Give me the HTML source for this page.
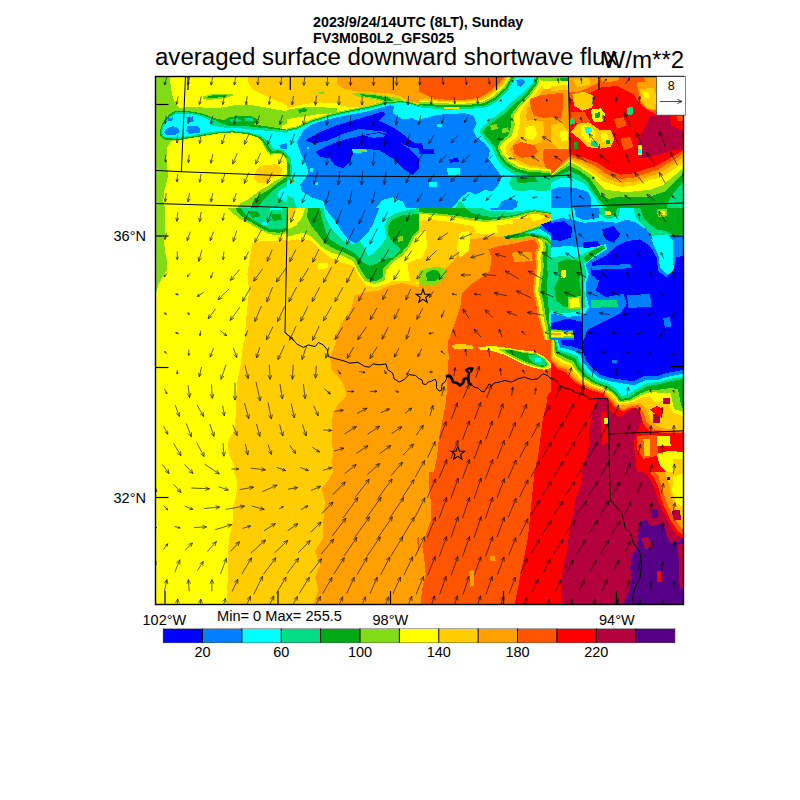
<!DOCTYPE html>
<html><head><meta charset="utf-8">
<style>
html,body{margin:0;padding:0;background:#fff;}
body{width:800px;height:800px;position:relative;overflow:hidden;font-family:"Liberation Sans",sans-serif;color:#000;}
.t{position:absolute;white-space:nowrap;line-height:1;}
svg{position:absolute;left:0;top:0;}
</style></head><body>
<svg id="map" width="800" height="800" viewBox="0 0 800 800">
<defs><clipPath id="cp"><rect x="156" y="77" width="527" height="527"/></clipPath></defs>
<g clip-path="url(#cp)" shape-rendering="crispEdges">
<rect x="155" y="76" width="529" height="529" fill="#ffff00"/>
<defs><clipPath id="t00"><rect x="155" y="76" width="132" height="132"/></clipPath><clipPath id="t01"><rect x="155" y="208" width="132" height="132"/></clipPath><clipPath id="t02"><rect x="155" y="340" width="132" height="132"/></clipPath><clipPath id="t03"><rect x="155" y="472" width="132" height="132"/></clipPath><clipPath id="t10"><rect x="287" y="76" width="132" height="132"/></clipPath><clipPath id="t11"><rect x="287" y="208" width="132" height="132"/></clipPath><clipPath id="t12"><rect x="287" y="340" width="132" height="132"/></clipPath><clipPath id="t13"><rect x="287" y="472" width="132" height="132"/></clipPath><clipPath id="t20"><rect x="419" y="76" width="132" height="132"/></clipPath><clipPath id="t21"><rect x="419" y="208" width="132" height="132"/></clipPath><clipPath id="t22"><rect x="419" y="340" width="132" height="132"/></clipPath><clipPath id="t23"><rect x="419" y="472" width="132" height="132"/></clipPath><clipPath id="t30"><rect x="551" y="76" width="132" height="132"/></clipPath><clipPath id="t31"><rect x="551" y="208" width="132" height="132"/></clipPath><clipPath id="t32"><rect x="551" y="340" width="132" height="132"/></clipPath><clipPath id="t33"><rect x="551" y="472" width="132" height="132"/></clipPath></defs>
<g clip-path="url(#t00)"><g transform="translate(155,76) scale(0.165)">
<rect x="-10" y="-10" width="820" height="820" fill="#ffff00"/>
<polygon fill="#ffcd00" points="560,0 565,40 590,80 640,105 700,135 760,160 800,178 800,0"/>
<polygon fill="#ffcd00" points="620,560 660,540 740,535 770,560 760,600 700,620 680,650 620,645 600,620 610,580"/>
<polygon fill="#82dc14" points="0,0 90,0 95,60 105,120 120,165 150,195 230,185 330,195 420,190 490,175 560,172 640,185 720,200 800,215 800,290 770,300 770,325 800,335 800,520 780,480 740,470 700,480 670,445 650,400 620,370 560,345 470,335 400,340 330,352 250,367 150,385 100,392 75,430 68,500 75,560 80,600 70,650 55,700 50,760 60,800 0,800"/>
<polygon fill="#82dc14" points="290,125 340,110 470,108 470,120 420,135 330,145 290,140"/>
<polygon fill="#00aa14" points="305,128 345,118 440,115 430,125 340,135"/>
<polygon fill="#82dc14" points="800,590 760,620 720,640 680,670 640,690 600,720 560,750 520,770 500,800 800,800"/>
<polygon fill="#00aa14" points="800,610 740,650 690,690 640,715 600,750 580,800 800,800"/>
<polygon fill="#00dc82" points="800,640 760,660 720,690 690,720 650,760 620,800 800,800"/>
<polygon fill="#00ffff" points="800,670 760,690 740,720 760,750 800,760"/>
<polygon fill="#00aa14" points="28,335 45,285 85,235 120,212 200,212 290,228 360,255 420,268 450,250 520,240 590,245 625,265 600,295 680,305 800,325 800,500 770,470 740,465 700,470 680,445 655,400 625,372 560,352 470,342 400,345 330,357 250,370 150,388 60,385 35,370"/>
<polygon fill="#00dc82" points="35,335 50,290 90,242 125,220 200,220 285,235 350,262 400,285 440,300 520,300 600,310 700,320 800,330 800,490 775,460 745,450 710,455 690,430 665,395 635,368 565,345 470,335 400,338 330,350 250,362 150,380 65,378 42,365"/>
<polygon fill="#00dc82" points="450,265 500,255 520,270 470,285"/>
<polygon fill="#00dc82" points="540,255 590,255 600,275 550,275"/>
<polygon fill="#00ffff" points="42,335 58,292 95,250 130,228 200,228 280,243 330,268 345,300 440,316 520,318 600,326 700,333 800,345 800,470 780,450 750,440 720,440 700,415 675,385 640,360 565,340 470,330 400,332 330,340 250,355 150,372 70,370 48,360"/>
<polygon fill="#0080ff" points="55,340 75,315 110,305 140,315 150,340 120,360 70,360"/>
<polygon fill="#0080ff" points="80,255 110,250 105,275 75,275"/>
<polygon fill="#0080ff" points="190,250 230,245 235,275 200,280"/>
<polygon fill="#0080ff" points="195,305 250,300 275,320 270,345 210,350 190,330"/>
<polygon fill="#0080ff" points="750,420 800,405 800,445 770,445"/>
</g></g>
<g clip-path="url(#t01)"><g transform="translate(155,208) scale(0.165)">
<rect x="-10" y="-10" width="820" height="820" fill="#ffff00"/>
<polygon fill="#82dc14" points="0,0 60,0 62,100 55,200 60,260 75,330 70,380 45,420 20,470 10,500 0,520"/>
<polygon fill="#ffcd00" points="590,215 640,200 800,195 800,800 545,800 550,700 560,600 570,500 560,400 575,300"/>
<polygon fill="#82dc14" points="440,0 800,0 800,150 760,165 700,160 640,135 580,100 520,70 470,30"/>
<polygon fill="#00aa14" points="490,0 800,0 800,140 750,150 690,145 640,120 590,90 540,60 500,25"/>
<polygon fill="#00dc82" points="520,0 800,0 800,120 740,130 690,125 640,100 590,70 550,40"/>
<polygon fill="#00aa14" points="560,20 620,15 640,50 590,60"/>
<polygon fill="#00aa14" points="700,40 760,35 770,70 720,80"/>
<polygon fill="#00ffff" points="700,0 770,0 770,15 700,15"/>
<polygon fill="#00ffff" points="650,85 680,85 680,105 650,105"/>
</g></g>
<g clip-path="url(#t02)"><g transform="translate(155,340) scale(0.165)">
<rect x="-10" y="-10" width="820" height="820" fill="#ffff00"/>
<polygon fill="#ffcd00" points="540,0 530,60 520,150 500,250 490,350 490,450 480,550 440,620 450,700 480,760 480,800 800,800 800,0"/>
</g></g>
<g clip-path="url(#t03)"><g transform="translate(155,472) scale(0.165)">
<rect x="-10" y="-10" width="820" height="820" fill="#ffff00"/>
<polygon fill="#ffcd00" points="480,0 500,60 490,160 470,220 470,300 450,400 440,500 440,650 435,800 800,800 800,0"/>
</g></g>
<g clip-path="url(#t10)"><g transform="translate(287,76) scale(0.165)">
<rect x="-10" y="-10" width="820" height="820" fill="#ffff00"/>
<polygon fill="#ffcd00" points="0,0 800,0 800,175 740,165 690,150 600,150 540,165 480,185 400,190 330,182 300,165 200,160 100,170 40,185 0,195"/>
<polygon fill="#ffa000" points="300,0 305,50 340,75 420,95 520,100 620,105 690,120 730,150 800,165 800,0"/>
<polygon fill="#82dc14" points="0,205 60,195 150,185 300,195 300,225 200,230 100,245 0,262"/>
<polygon fill="#00aa14" points="65,205 100,195 125,200 115,218 75,222"/>
<polygon fill="#82dc14" points="185,98 225,92 228,108 190,112"/>
<polygon fill="#82dc14" points="390,105 450,100 540,110 620,125 680,135 720,160 640,168 600,160 540,142 470,132 420,122"/>
<polygon fill="#00aa14" points="430,108 540,118 610,130 650,152 600,152 540,134 470,124"/>
<polygon fill="#82dc14" points="0,318 60,305 150,262 300,218 400,198 500,178 560,162 620,150 700,148 760,160 800,172 800,800 0,800"/>
<polygon fill="#00aa14" points="0,326 60,312 150,270 300,226 400,205 500,186 560,170 620,157 700,153 760,165 800,178 800,800 0,800"/>
<polygon fill="#00dc82" points="0,332 60,318 150,276 300,232 400,211 500,192 560,176 620,163 700,158 760,170 800,183 800,800 0,800"/>
<polygon fill="#00ffff" points="0,338 60,324 150,282 300,238 400,217 500,198 560,182 620,169 700,163 760,175 800,188 800,800 0,800"/>
<polygon fill="#0080ff" points="100,328 150,295 200,275 300,250 400,232 500,212 560,194 620,178 650,180 640,225 700,262 760,255 800,275 800,800 720,800 700,760 640,735 580,750 540,800 230,800 220,760 150,735 90,700 80,660 110,620 130,580 110,520 80,460 60,400"/>
<polygon fill="#00dc82" points="0,480 20,490 30,560 25,620 0,640"/>
<polygon fill="#00aa14" points="0,520 15,530 18,600 0,610"/>
<polygon fill="#82dc14" points="18,622 42,620 42,650 20,652"/>
<polygon fill="#00dc82" points="0,720 40,740 60,800 0,800"/>
<polygon fill="#00ffff" points="140,560 160,560 160,580 140,580"/>
<polygon fill="#00ffff" points="170,640 190,640 190,660 170,660"/>
<polygon fill="#00ffff" points="120,430 135,430 135,445 120,445"/>
<polygon fill="#0000ff" points="110,390 200,340 300,300 400,270 500,240 580,215 600,230 560,270 640,310 620,340 520,330 440,320 340,350 250,390 160,410"/>
<polygon fill="#0000ff" points="170,460 250,420 350,385 450,360 500,350 560,340 640,360 680,400 740,440 780,480 800,500 800,560 760,600 700,560 640,500 560,450 480,440 400,470 380,520 340,560 290,540 260,500 200,490"/>
<polygon fill="#0000ff" points="560,300 640,310 700,350 760,400 800,410 800,440 740,430 680,400 620,360"/>
<polygon fill="#0080ff" points="470,360 560,345 600,365 520,375"/>
<polygon fill="#00ffff" points="395,445 480,440 485,462 400,467"/>
<polygon fill="#82dc14" points="420,447 470,445 470,458 425,460"/>
</g></g>
<g clip-path="url(#t11)"><g transform="translate(287,208) scale(0.165)">
<rect x="-10" y="-10" width="820" height="820" fill="#ffcd00"/>
<polygon fill="#ffa000" points="280,800 330,700 390,610 410,530 480,510 560,500 620,470 700,455 800,480 800,800"/>
<polygon fill="#ffff00" points="60,0 30,60 0,90 0,200 60,190 140,195 200,250 260,300 330,330 400,350 440,420 480,470 540,480 600,460 640,440 700,440 760,440 800,460 800,0"/>
<polygon fill="#ffff00" points="185,335 250,330 250,365 190,370"/>
<polygon fill="#82dc14" points="110,0 90,60 50,110 0,130 0,175 50,160 100,150 150,175 200,230 270,270 340,290 400,320 430,380 470,440 530,460 590,440 600,380 640,330 700,290 740,240 770,180 800,150 800,0"/>
<polygon fill="#00aa14" points="130,0 120,50 150,110 190,160 230,215 290,248 350,272 410,302 440,360 480,425 530,445 578,425 585,365 630,320 690,275 730,230 760,170 800,130 800,0"/>
<polygon fill="#00dc82" points="200,0 210,60 230,130 260,190 320,230 380,255 430,290 460,330 500,350 540,340 580,310 640,300 690,250 650,215 615,170 610,110 640,70 700,45 800,35 800,0"/>
<polygon fill="#00ffff" points="220,0 235,60 260,110 300,160 340,200 400,220 440,200 470,240 490,290 530,270 570,230 600,180 590,110 610,60 660,30 740,10 800,0"/>
<polygon fill="#0080ff" points="230,0 260,40 300,90 330,140 370,190 420,215 450,190 490,150 520,100 540,50 560,0"/>
<polygon fill="#82dc14" points="670,175 700,170 705,200 675,205"/>
<polygon fill="#ffcd00" points="730,335 800,305 800,450 745,440"/>
</g></g>
<g clip-path="url(#t12)"><g transform="translate(287,340) scale(0.165)">
<rect x="-10" y="-10" width="820" height="820" fill="#ffcd00"/>
<polygon fill="#ffa000" points="300,0 280,60 260,100 270,180 320,230 350,290 360,340 310,390 280,440 270,520 270,600 280,680 270,760 280,800 800,800 800,0"/>
</g></g>
<g clip-path="url(#t13)"><g transform="translate(287,472) scale(0.165)">
<rect x="-10" y="-10" width="820" height="820" fill="#ffcd00"/>
<polygon fill="#ffa000" points="280,0 250,50 210,100 230,180 220,300 220,400 170,480 200,560 170,640 190,720 160,800 800,800 800,0"/>
<polygon fill="#ff5500" points="790,400 800,395 800,480 792,470"/>
</g></g>
<g clip-path="url(#t20)"><g transform="translate(419,76) scale(0.165)">
<rect x="-10" y="-10" width="820" height="820" fill="#00ffff"/>
<polygon fill="#00dc82" points="0,0 590,0 545,80 480,150 410,190 300,200 150,205 60,195 0,190"/>
<polygon fill="#00aa14" points="0,0 575,0 535,75 470,140 400,178 300,188 150,190 60,180 0,178"/>
<polygon fill="#82dc14" points="0,0 565,0 525,70 460,130 395,165 300,175 150,178 60,170 0,168"/>
<polygon fill="#ffff00" points="0,0 555,0 515,65 450,122 390,155 300,165 250,170 150,165 60,160 0,160"/>
<polygon fill="#ffcd00" points="0,0 545,0 505,60 440,115 385,148 300,158 150,158 60,150 0,152"/>
<polygon fill="#ffa000" points="0,0 535,0 495,55 430,108 380,140 300,150 200,152 100,148 40,135 0,140"/>
<polygon fill="#ff5500" points="0,0 520,0 480,50 420,100 370,130 300,142 200,145 100,140 40,115 0,95"/>
<polygon fill="#ffff00" points="150,185 240,185 240,198 150,198"/>
<polygon fill="#00dc82" points="705,0 690,40 630,100 560,160 500,215 440,260 390,300 365,340 400,385 445,440 470,500 510,555 575,595 660,612 740,610 800,620 800,0"/>
<polygon fill="#00aa14" points="715,0 700,45 640,115 580,170 520,230 460,270 410,310 385,340 420,380 460,430 485,490 525,540 585,580 660,598 740,598 800,605 800,0"/>
<polygon fill="#82dc14" points="725,0 712,50 660,120 600,180 560,230 560,300 540,360 490,400 475,430 495,480 535,525 590,560 660,580 740,585 800,592 800,0"/>
<polygon fill="#ffff00" points="735,0 722,55 670,125 612,185 575,235 580,300 560,365 505,405 490,430 508,475 545,515 598,548 665,568 740,572 800,580 800,0"/>
<polygon fill="#ffcd00" points="760,0 745,60 700,115 640,178 610,232 615,300 598,366 540,408 522,435 530,470 560,505 610,535 670,555 740,562 800,568 800,0"/>
<polygon fill="#ffa000" points="790,0 770,60 735,110 690,150 655,200 650,250 665,300 640,340 590,395 550,440 570,490 620,520 680,545 740,550 800,555 800,0"/>
<polygon fill="#ff5500" points="670,140 740,115 800,110 800,250 760,255 700,240 680,200"/>
<polygon fill="#ffcd00" points="610,290 680,265 750,275 760,340 740,400 680,420 620,400 600,340"/>
<polygon fill="#ffff00" points="640,310 700,300 720,350 690,390 640,370"/>
<polygon fill="#ff5500" points="570,420 620,400 700,420 720,460 690,490 620,495 575,470"/>
<polygon fill="#ff5500" points="756,445 800,440 800,565 770,560 750,500"/>
<polygon fill="#82dc14" points="430,300 470,290 480,320 440,330"/>
<polygon fill="#82dc14" points="500,320 540,310 545,340 505,345"/>
<polygon fill="#0080ff" points="0,262 60,250 110,235 200,230 280,225 330,240 350,290 330,330 350,370 400,410 430,450 420,500 450,540 480,580 500,610 480,660 440,700 400,690 340,720 300,700 250,740 220,780 200,800 0,800"/>
<polygon fill="#00ffff" points="170,560 250,555 250,600 175,600"/>
<polygon fill="#00ffff" points="60,640 110,640 110,670 60,670"/>
<polygon fill="#00ffff" points="110,290 140,290 140,310 110,310"/>
<polygon fill="#0000ff" points="0,405 20,410 25,440 90,445 95,470 0,472"/>
<polygon fill="#0000ff" points="180,505 235,495 245,520 190,525"/>
<polygon fill="#0080ff" points="590,25 625,15 645,35 620,65 595,60"/>
<polygon fill="#00dc82" points="560,610 660,612 740,610 800,620 800,690 740,700 680,690 620,700 570,690 545,650"/>
<polygon fill="#00aa14" points="590,615 700,612 720,640 600,650"/>
<polygon fill="#0080ff" points="480,800 500,760 560,740 600,760 590,800"/>
<polygon fill="#00dc82" points="220,800 240,760 270,770 280,800"/>
<polygon fill="#ffff00" points="735,0 800,0 800,75 765,82 740,60"/>
<polygon fill="#82dc14" points="725,0 800,0 800,28 740,32"/>
</g></g>
<g clip-path="url(#t21)"><g transform="translate(419,208) scale(0.165)">
<rect x="-10" y="-10" width="820" height="820" fill="#ffa000"/>
<polygon fill="#ffcd00" points="0,40 520,60 600,60 700,40 780,50 790,70 740,110 670,150 600,165 520,175 440,172 380,182 300,192 262,230 232,290 192,340 150,372 100,362 40,372 0,382"/>
<polygon fill="#ffff00" points="0,30 100,45 200,55 300,75 400,85 520,70 600,50 700,35 770,45 740,70 640,85 560,95 480,105 400,112 300,105 200,85 100,75 40,70 0,80"/>
<polygon fill="#ffff00" points="245,150 300,140 310,190 300,260 250,300 230,250"/>
<polygon fill="#ffff00" points="0,150 40,140 50,230 20,300 0,310"/>
<polygon fill="#ffff00" points="330,110 470,105 480,150 400,160 340,150"/>
<polygon fill="#ffcd00" points="560,70 680,55 690,85 580,105"/>
<polygon fill="#ff5500" points="180,800 210,720 250,600 260,520 320,460 380,420 430,380 440,300 420,250 480,230 560,220 640,200 700,190 720,230 700,280 710,340 700,420 690,500 710,580 720,650 740,720 760,800"/>
<polygon fill="#ffa000" points="560,270 680,265 690,320 580,330"/>
<polygon fill="#82dc14" points="0,0 800,0 800,40 760,35 700,25 640,40 600,55 520,70 440,80 400,85 300,70 200,52 100,42 0,35"/>
<polygon fill="#00aa14" points="0,0 800,0 800,35 760,30 700,20 640,33 590,48 520,60 440,70 400,72 300,58 200,42 100,32 0,26"/>
<polygon fill="#00dc82" points="280,0 800,0 800,30 700,15 640,26 590,40 520,50 440,55 380,45 320,30"/>
<polygon fill="#00ffff" points="380,0 800,0 800,20 700,8 620,18 560,22 480,20 420,15"/>
<polygon fill="#0080ff" points="430,0 580,0 570,12 440,14"/>
<polygon fill="#ffff00" points="740,110 720,190 735,230 715,290 722,340 712,420 702,500 722,580 732,650 750,720 768,800 800,800 800,60"/>
<polygon fill="#82dc14" points="760,120 745,190 755,240 735,300 742,350 732,420 722,500 742,580 752,650 768,720 780,800 800,800 800,70"/>
<polygon fill="#00aa14" points="775,130 760,190 770,250 750,300 757,350 747,420 737,500 757,580 767,650 782,720 792,800 800,800 800,80"/>
<polygon fill="#00dc82" points="790,140 775,200 785,260 775,320 780,400 775,500 785,600 790,700 800,720 800,90"/>
<polygon fill="#00ffff" points="785,640 800,630 800,720 788,700"/>
<polygon fill="#82dc14" points="500,175 600,150 680,125 740,100 800,70 800,230 760,200 720,185 660,180 600,190 540,195"/>
<polygon fill="#00aa14" points="515,172 620,150 690,128 750,105 800,80 800,220 765,190 720,175 660,170 600,180 530,186"/>
<polygon fill="#00dc82" points="640,150 700,130 760,108 800,90 800,210 770,180 720,165 670,162"/>
<polygon fill="#00ffff" points="660,150 710,135 765,112 800,95 800,200 775,172 720,155"/>
<polygon fill="#0080ff" points="720,120 770,95 800,85 800,170 770,150"/>
<polygon fill="#0000ff" points="740,100 800,80 800,150 770,135"/>
<polygon fill="#82dc14" points="0,380 50,365 120,355 160,370 165,410 130,450 80,470 30,470 0,460"/>
<polygon fill="#00aa14" points="40,395 80,375 120,380 130,410 100,440 50,440"/>
</g></g>
<g clip-path="url(#t22)"><g transform="translate(419,340) scale(0.165)">
<rect x="-10" y="-10" width="820" height="820" fill="#ff5500"/>
<polygon fill="#ffa000" points="0,0 175,0 180,100 175,200 170,300 160,400 140,500 120,600 110,700 90,800 0,800"/>
<polygon fill="#ffcd00" points="200,30 250,22 330,35 325,52 250,58 205,50"/>
<polygon fill="#ffff00" points="360,45 440,35 520,45 600,60 700,70 760,100 800,140 800,170 760,180 700,170 640,150 580,120 520,90 440,65 370,60"/>
<polygon fill="#82dc14" points="480,55 540,55 620,70 700,80 760,110 790,150 760,170 700,160 640,140 580,110 520,80"/>
<polygon fill="#00aa14" points="520,60 560,60 640,80 700,85 750,110 780,150 750,165 700,150 640,130 590,105 540,80"/>
<polygon fill="#00dc82" points="660,90 720,90 760,120 770,150 730,155 690,135 670,115"/>
<polygon fill="#00ffff" points="700,110 740,110 745,130 705,132"/>
<polygon fill="#ff0000" points="800,310 780,330 770,400 750,480 740,560 730,640 720,720 700,800 800,800"/>
</g></g>
<g clip-path="url(#t23)"><g transform="translate(419,472) scale(0.165)">
<rect x="-10" y="-10" width="820" height="820" fill="#ff5500"/>
<polygon fill="#ffa000" points="0,0 60,0 60,100 75,200 70,300 35,400 20,450 35,550 40,620 20,700 10,800 0,800"/>
<polygon fill="#ff0000" points="700,0 690,100 680,200 670,300 660,400 640,500 620,600 600,700 580,800 800,800 800,0"/>
<polygon fill="#ffa000" points="300,600 330,595 335,690 310,695"/>
<polygon fill="#ffa000" points="430,510 460,510 465,540 435,540"/>
</g></g>
<g clip-path="url(#t30)"><g transform="translate(551,76) scale(0.165)">
<rect x="-10" y="-10" width="820" height="820" fill="#ff0000"/>
<polygon fill="#ffa000" points="0,0 108,0 108,600 0,600"/>
<polygon fill="#82dc14" points="0,0 100,0 100,30 0,35"/>
<polygon fill="#00aa14" points="55,10 100,10 100,45 60,40"/>
<polygon fill="#ffff00" points="0,30 100,28 100,60 0,65"/>
<polygon fill="#ffcd00" points="0,60 100,55 100,85 0,90"/>
<polygon fill="#ff5500" points="0,110 70,100 75,180 60,260 0,250"/>
<polygon fill="#ffcd00" points="0,300 60,280 100,330 100,450 40,440 0,400"/>
<polygon fill="#ffff00" points="55,335 100,335 100,395 60,395"/>
<polygon fill="#ff5500" points="0,440 108,440 108,560 60,575 0,585"/>
<polygon fill="#ff5500" points="110,0 640,0 640,230 600,215 540,170 500,110 440,80 400,60 300,70 240,100 180,130 110,140"/>
<polygon fill="#ffa000" points="110,0 300,0 290,40 230,70 170,95 110,100"/>
<polygon fill="#ffcd00" points="130,20 230,10 240,50 160,70"/>
<polygon fill="#ffa000" points="300,0 420,0 400,30 310,40"/>
<polygon fill="#ffa000" points="560,0 640,0 640,50 580,60"/>
<polygon fill="#ffcd00" points="130,110 200,95 260,120 250,190 190,210 140,180"/>
<polygon fill="#ffff00" points="240,205 300,195 330,230 310,280 255,275"/>
<polygon fill="#00aa14" points="265,225 295,220 300,250 270,255"/>
<polygon fill="#ffa000" points="520,40 640,30 640,210 580,200 540,150"/>
<polygon fill="#ffcd00" points="540,80 620,70 640,120 630,200 570,190 545,140"/>
<polygon fill="#ffff00" points="560,100 590,95 595,130 565,135"/>
<polygon fill="#ff5500" points="120,220 200,215 240,280 160,290 120,260"/>
<polygon fill="#ffcd00" points="160,290 230,280 300,330 300,400 280,440 220,430 170,380 120,340"/>
<polygon fill="#ffff00" points="180,300 230,295 270,340 260,400 220,400 180,350"/>
<polygon fill="#00ffff" points="200,310 240,310 250,340 215,345"/>
<polygon fill="#00dc82" points="240,390 280,395 285,430 245,425"/>
<polygon fill="#00dc82" points="110,260 140,255 145,290 115,295"/>
<polygon fill="#00aa14" points="140,400 165,400 165,440 140,440"/>
<polygon fill="#ffcd00" points="290,330 360,325 385,380 360,430 300,440"/>
<polygon fill="#ffff00" points="300,350 340,345 350,390 310,400"/>
<polygon fill="#00aa14" points="335,390 360,390 360,415 335,415"/>
<polygon fill="#ff5500" points="380,260 440,250 460,300 400,320"/>
<polygon fill="#ff5500" points="420,380 480,370 500,430 440,450"/>
<polygon fill="#00dc82" points="460,195 495,185 500,230 465,240"/>
<polygon fill="#b4003c" points="600,240 720,240 730,300 800,330 800,440 740,450 680,470 600,490 540,500 520,470 530,380 560,320"/>
<polygon fill="#ff5500" points="760,240 800,240 800,275 770,270"/>
<polygon fill="#ffff00" points="525,420 550,420 550,480 525,480"/>
<polygon fill="#00ffff" points="530,440 545,440 545,465 530,465"/>
<polygon fill="#ff5500" points="0,590 110,475 200,495 280,525 350,570 420,598 500,590 580,562 640,545 700,510 760,475 800,450 800,800 0,800"/>
<polygon fill="#ffa000" points="0,595 110,490 195,512 270,548 340,596 420,624 500,616 585,588 650,568 710,530 770,492 800,470 800,800 0,800"/>
<polygon fill="#ffcd00" points="0,600 110,502 190,528 262,568 330,618 420,648 500,640 590,610 660,590 720,550 780,510 800,492 800,800 0,800"/>
<polygon fill="#ffff00" points="0,600 110,512 185,545 255,590 320,640 420,672 500,665 595,632 670,612 730,575 790,535 800,525 800,800 0,800"/>
<polygon fill="#82dc14" points="0,605 110,520 180,555 245,600 290,650 330,690 420,700 500,700 600,690 680,660 740,610 800,560 800,800 0,800"/>
<polygon fill="#00aa14" points="0,610 110,545 175,575 235,620 270,670 300,720 350,745 420,730 500,735 600,730 690,700 750,640 800,590 800,800 0,800"/>
<polygon fill="#00dc82" points="0,620 110,575 170,600 225,645 255,700 300,760 340,800 0,800"/>
<polygon fill="#00dc82" points="800,640 760,690 720,740 700,800 800,800"/>
<polygon fill="#00ffff" points="0,650 60,620 130,620 200,650 240,700 280,760 320,800 0,800"/>
<polygon fill="#0080ff" points="0,690 60,670 150,680 220,700 245,740 240,800 0,800"/>
</g></g>
<g clip-path="url(#t31)"><g transform="translate(551,208) scale(0.165)">
<rect x="-10" y="-10" width="820" height="820" fill="#0080ff"/>
<polygon fill="#00ffff" points="0,0 800,0 800,170 740,170 700,150 640,130 560,120 520,90 460,70 400,90 300,80 200,90 130,70 60,60 0,80"/>
<polygon fill="#0080ff" points="140,0 300,0 290,60 200,75 150,50"/>
<polygon fill="#00dc82" points="290,0 420,0 410,50 340,70 300,40"/>
<polygon fill="#00aa14" points="320,0 400,0 390,40 340,50"/>
<polygon fill="#ffff00" points="325,20 360,15 362,40 330,42"/>
<polygon fill="#00dc82" points="500,0 800,0 800,165 730,170 690,200 640,210 610,180 580,130 540,90 510,50"/>
<polygon fill="#00aa14" points="540,0 800,0 800,160 740,165 700,140 640,130 600,100 560,60"/>
<polygon fill="#82dc14" points="640,10 700,5 705,50 650,55"/>
<polygon fill="#ffff00" points="660,20 690,18 690,40 662,42"/>
<polygon fill="#00ffff" points="600,170 700,160 740,200 740,300 745,390 700,400 660,360 650,280 620,220"/>
<polygon fill="#00ffff" points="0,240 100,230 200,240 330,220 340,250 260,300 210,340 230,400 210,460 215,540 230,600 200,650 100,660 0,640"/>
<polygon fill="#00dc82" points="0,300 60,290 150,300 230,260 320,225 330,245 250,295 200,335 215,400 200,460 205,540 210,600 150,630 60,640 0,620"/>
<polygon fill="#00aa14" points="40,330 100,310 170,320 190,380 170,430 180,500 190,580 150,610 80,600 30,560 20,480 50,420"/>
<polygon fill="#00aa14" points="200,300 260,250 320,228 325,245 260,290 215,330"/>
<polygon fill="#ffff00" points="60,380 90,375 92,420 62,425"/>
<polygon fill="#82dc14" points="100,540 180,535 185,610 105,615"/>
<polygon fill="#ffff00" points="110,550 170,545 175,600 115,605"/>
<polygon fill="#00dc82" points="240,560 400,555 405,600 245,605"/>
<polygon fill="#0000ff" points="250,330 330,290 400,230 460,200 540,190 600,230 640,300 650,380 700,420 740,380 760,300 800,290 800,800 200,800 220,740 300,700 420,640 460,580 440,520 330,540 270,500 290,440 240,400"/>
<polygon fill="#0000ff" points="310,130 380,110 420,160 380,210 330,190"/>
<polygon fill="#0000ff" points="0,90 80,80 130,120 120,180 60,200 0,190"/>
<polygon fill="#0000ff" points="190,210 280,200 300,230 200,245"/>
<polygon fill="#0000ff" points="0,700 100,670 190,690 190,800 140,800 130,740 0,735"/>
<polygon fill="#0080ff" points="460,530 600,520 610,600 470,605"/>
<polygon fill="#0080ff" points="680,670 720,660 730,720 690,725"/>
<polygon fill="#0080ff" points="240,350 480,340 490,365 250,375"/>
<polygon fill="#82dc14" points="0,740 130,745 140,785 0,790"/>
<polygon fill="#ffff00" points="0,748 120,752 125,778 0,780"/>
<polygon fill="#ffa000" points="0,755 60,758 60,772 0,772"/>
</g></g>
<g clip-path="url(#t32)"><g transform="translate(551,340) scale(0.165)">
<rect x="-10" y="-10" width="820" height="820" fill="#ff0000"/>
<polygon fill="#b4003c" points="280,360 340,360 345,420 420,470 460,440 520,400 560,440 550,500 520,560 500,620 510,700 520,800 190,800 210,720 230,640 230,560 250,460 260,400"/>
<polygon fill="#ff0000" points="300,440 350,430 350,620 310,640"/>
<polygon fill="#ffff00" points="320,470 345,470 345,510 320,510"/>
<polygon fill="#ff5500" points="0,0 0,130 40,178 85,192 108,220 148,258 220,296 312,326 358,370 390,416 440,432 485,412 520,410 545,450 560,510 600,555 700,565 800,565 800,0"/>
<polygon fill="#ffa000" points="0,0 0,120 50,165 95,180 118,210 158,250 228,288 320,318 365,362 398,406 440,420 490,400 530,395 560,440 580,500 620,540 700,555 800,555 800,0"/>
<polygon fill="#ffcd00" points="5,0 8,110 60,152 105,168 128,200 168,242 236,280 325,310 372,354 405,396 495,390 540,380 580,420 600,480 640,520 700,540 800,545 800,0"/>
<polygon fill="#ffff00" points="10,0 15,100 70,140 115,155 138,190 178,234 244,274 330,302 380,346 412,386 490,378 550,350 600,340 640,380 700,360 740,440 800,460 800,0"/>
<polygon fill="#82dc14" points="15,0 22,90 80,125 125,142 148,180 188,226 252,268 335,296 385,338 416,378 485,368 545,335 605,315 665,320 725,320 745,420 790,430 800,440 800,0"/>
<polygon fill="#00aa14" points="20,0 30,80 90,110 135,128 158,170 198,218 260,262 340,290 390,330 420,370 480,360 540,325 600,300 660,300 730,290 770,300 790,400 800,420 800,0"/>
<polygon fill="#00dc82" points="25,0 38,70 100,92 148,112 170,158 210,208 270,254 345,280 395,318 425,358 475,348 530,310 590,278 650,270 720,252 780,240 800,235 800,0"/>
<polygon fill="#00ffff" points="30,0 45,60 110,78 160,98 182,148 222,198 280,242 350,266 400,300 430,340 470,330 520,295 580,262 650,255 715,237 775,225 800,220 800,0"/>
<polygon fill="#0080ff" points="40,0 55,45 120,60 175,80 195,135 235,185 290,228 355,250 430,262 500,275 570,245 650,240 710,222 770,210 800,205 800,0"/>
<polygon fill="#0000ff" points="60,0 70,30 130,40 190,60 210,120 250,170 300,210 360,230 430,240 500,250 560,220 640,220 700,200 760,190 800,180 800,0"/>
<polygon fill="#0080ff" points="370,120 400,120 400,140 370,140"/>
<polygon fill="#b4003c" points="620,450 660,450 660,500 620,500"/>
<polygon fill="#b4003c" points="680,350 720,350 720,390 680,390"/>
<polygon fill="#ff0000" points="600,420 640,400 680,420 670,470 620,440"/>
<polygon fill="#ff5500" points="520,580 640,575 650,700 560,720 520,660"/>
<polygon fill="#ffff00" points="640,580 720,580 725,640 645,645"/>
<polygon fill="#ffcd00" points="560,600 600,600 600,700 565,700"/>
<polygon fill="#ffff00" points="640,690 720,670 800,680 800,800 700,800 660,760"/>
<polygon fill="#ffcd00" points="740,720 800,720 800,800 740,800"/>
<polygon fill="#ff0000" points="720,580 800,575 800,680 740,660"/>
</g></g>
<g clip-path="url(#t33)"><g transform="translate(551,472) scale(0.165)">
<rect x="-10" y="-10" width="820" height="820" fill="#b4003c"/>
<polygon fill="#ff0000" points="0,0 190,0 180,80 150,160 130,260 110,360 100,460 80,540 65,640 60,800 0,800"/>
<polygon fill="#550087" points="540,300 580,290 600,330 680,310 700,380 720,430 780,420 800,380 800,800 440,800 470,720 490,640 480,580 490,500 520,460 530,380"/>
<polygon fill="#550087" points="610,225 650,220 650,275 615,280"/>
<polygon fill="#b4003c" points="545,400 590,390 620,450 570,470"/>
<polygon fill="#ff0000" points="640,600 665,600 665,665 640,665"/>
<polygon fill="#b4003c" points="770,440 800,430 800,720 780,700"/>
<polygon fill="#ff0000" points="560,0 800,0 800,400 760,380 720,320 690,260 650,180 630,100 600,40"/>
<polygon fill="#ff5500" points="590,0 800,0 800,380 770,360 735,310 705,250 670,170 650,90 620,30"/>
<polygon fill="#ffa000" points="630,0 800,0 800,350 775,320 740,270 710,210 685,140 665,70 650,20"/>
<polygon fill="#ffcd00" points="690,0 800,0 800,310 775,260 745,200 725,130 712,60"/>
<polygon fill="#ffff00" points="740,30 800,10 800,210 760,190 735,120"/>
<polygon fill="#b4003c" points="730,235 780,230 790,290 745,295"/>
<polygon fill="#550087" points="700,30 720,30 720,50 700,50"/>
</g></g>
</g>
<g clip-path="url(#cp)" fill="none" stroke="#000" stroke-width="1">
<polyline points="185.5,76.0 181.4,171.7" stroke-width="1.0" stroke-linejoin="round" stroke-linecap="round"/>
<polyline points="155.0,170.4 181.4,171.7 287.0,175.8 419.0,176.6 551.0,176.0 570.5,175.0" stroke-width="1.0" stroke-linejoin="round" stroke-linecap="round"/>
<polyline points="155.0,203.5 287.5,207.5 285.0,332.5 293.6,340.0" stroke-width="1.0" stroke-linejoin="round" stroke-linecap="round"/>
<polyline points="285.0,332.5 293.6,340.0 296.9,344.1 303.5,347.4 308.4,344.9 315.1,346.6 318.4,342.5 323.3,344.9 327.4,349.9 328.2,356.5 336.5,359.0 343.1,360.6 349.7,363.1 357.9,362.3 364.6,366.4 369.5,367.2 372.8,363.9 379.4,364.8 386.0,363.9 387.6,369.7 392.6,373.0 394.2,378.8 399.2,382.1 404.1,379.6 409.1,374.6 415.7,375.5 419.0,378.8 420.0,379.0 422.0,380.0 423.0,384.0 426.0,384.5 428.0,382.0 431.0,381.5 435.0,379.0 436.5,382.0 436.5,388.0 439.0,391.0 441.5,390.5 442.0,384.0 444.5,382.5 446.5,379.0 447.0,376.0 447.0,376.0 450.0,376.0 452.0,379.0 453.0,382.0 457.0,383.0 460.0,385.5 463.0,383.0 464.0,379.0 468.0,378.0 469.0,383.0 471.0,384.5 471.0,384.5 474.0,387.0 478.0,388.0 481.0,391.0 484.0,392.0 486.0,389.0 489.0,384.0 492.0,386.0 494.0,383.0 500.0,382.0 504.8,380.4 511.4,382.1 518.0,378.8 524.6,377.1 531.2,379.6 537.8,378.8 542.8,373.8 547.7,375.5 551.0,378.8 551.0,377.9 556.0,380.4 559.2,384.6 564.2,387.9 570.8,389.5 575.8,392.8 582.4,394.4 586.5,396.1 589.8,399.4 595.5,398.6 607.1,398.6 607.9,398.6 608.8,434.0 609.6,472.0 610.4,500.0 622.0,513.2 625.2,528.1 630.2,533.0 633.5,543.0 640.1,552.9 641.8,564.4 640.1,577.6 635.1,587.5 632.7,597.4 633.5,604.0" stroke-width="1.0" stroke-linejoin="round" stroke-linecap="round"/>
<polyline points="447.0,376.0 450.0,376.0 452.0,379.0 453.0,382.0 457.0,383.0 460.0,385.5 463.0,383.0 464.0,379.0 468.0,378.0 469.0,383.0 471.0,384.5" stroke-width="2.8" stroke-linejoin="round" stroke-linecap="round"/>
<polyline points="468.0,379.0 469.0,373.0 466.0,370.0 470.0,368.0 472.5,368.5 471.0,371.5" stroke-width="2.4" stroke-linejoin="round" stroke-linecap="round"/>
<polyline points="608.8,434.0 683.0,430.8" stroke-width="1.0" stroke-linejoin="round" stroke-linecap="round"/>
<polyline points="568.3,76.0 571.6,208.0 582.4,277.3 582.4,340.0 583.2,394.5" stroke-width="1.0" stroke-linejoin="round" stroke-linecap="round"/>
<polyline points="571.5,206.4 683.0,203.0" stroke-width="1.0" stroke-linejoin="round" stroke-linecap="round"/>
<polygon points="423.0,289.3 424.7,294.2 429.8,294.3 425.8,297.4 427.2,302.3 423.0,299.4 418.8,302.3 420.2,297.4 416.2,294.3 421.3,294.2" stroke-width="1.1"/>
<polygon points="457.8,446.3 459.5,451.2 464.6,451.3 460.6,454.4 462.0,459.3 457.8,456.4 453.6,459.3 455.0,454.4 451.0,451.3 456.1,451.2" stroke-width="1.1"/>
</g>
<g clip-path="url(#cp)" fill="none" stroke="#000" stroke-width="0.62">
<path d="M166.7,77.0L164.7,85.0M164.1,81.8L164.7,85.0L166.7,82.4"/>
<path d="M189.7,77.0L187.9,85.0M187.2,81.8L187.9,85.0L189.9,82.4"/>
<path d="M212.7,76.9L211.1,85.1M210.4,81.8L211.1,85.1L213.0,82.3"/>
<path d="M235.6,77.0L234.4,85.0M233.5,81.9L234.4,85.0L236.2,82.3"/>
<path d="M258.6,77.0L257.6,85.0M256.7,81.9L257.6,85.0L259.3,82.2"/>
<path d="M281.7,77.0L280.7,85.0M279.7,81.9L280.7,85.0L282.4,82.3"/>
<path d="M304.8,76.6L303.8,85.4M302.7,82.0L303.8,85.4L305.6,82.3"/>
<path d="M327.6,76.4L327.2,85.6M325.9,82.2L327.2,85.6L328.8,82.3"/>
<path d="M350.5,76.5L350.5,85.5M349.0,82.2L350.5,85.5L352.0,82.2"/>
<path d="M373.6,76.5L373.6,85.5M372.1,82.2L373.6,85.5L375.1,82.2"/>
<path d="M396.8,76.5L396.6,85.5M395.2,82.2L396.6,85.5L398.2,82.2"/>
<path d="M419.8,76.9L419.8,85.1M418.5,82.1L419.8,85.1L421.1,82.1"/>
<path d="M442.4,77.4L443.4,84.6M441.9,82.1L443.4,84.6L444.2,81.8"/>
<path d="M465.3,77.3L466.7,84.7M465.0,82.3L466.7,84.7L467.4,81.8"/>
<path d="M488.5,77.8L489.7,84.2M488.2,82.1L489.7,84.2L490.3,81.7"/>
<path d="M512.8,81.1L511.6,80.9M513.7,80.4L511.6,80.9L513.4,82.2"/>
<path d="M536.1,82.5L534.5,79.5M536.3,80.9L534.5,79.5L534.7,81.7"/>
<path d="M559.0,83.5L557.8,78.5M559.2,80.3L557.8,78.5L557.4,80.7"/>
<path d="M581.8,83.6L581.2,78.4M582.3,80.3L581.2,78.4L580.5,80.5"/>
<path d="M602.6,83.0L606.6,79.0M605.8,81.1L606.6,79.0L604.5,79.8"/>
<path d="M625.7,84.0L629.7,78.0M629.2,80.8L629.7,78.0L627.3,79.5"/>
<path d="M155.2,96.4L153.2,104.4M152.6,101.2L153.2,104.4L155.2,101.8"/>
<path d="M178.2,96.4L176.4,104.4M175.8,101.2L176.4,104.4L178.4,101.8"/>
<path d="M201.3,96.3L199.5,104.5M198.8,101.2L199.5,104.5L201.5,101.8"/>
<path d="M224.3,96.2L222.7,104.6M221.9,101.3L222.7,104.6L224.6,101.8"/>
<path d="M247.2,96.3L246.0,104.5M245.1,101.3L246.0,104.5L247.8,101.7"/>
<path d="M270.3,96.3L269.1,104.5M268.2,101.3L269.1,104.5L270.9,101.7"/>
<path d="M293.5,96.0L292.1,104.8M291.2,101.4L292.1,104.8L294.0,101.8"/>
<path d="M316.4,95.6L315.4,105.2M314.2,101.5L315.4,105.2L317.3,101.9"/>
<path d="M339.1,95.7L338.9,105.1M337.4,101.6L338.9,105.1L340.5,101.7"/>
<path d="M362.1,95.8L362.1,105.0M360.6,101.6L362.1,105.0L363.6,101.7"/>
<path d="M385.3,95.7L385.1,105.1M383.7,101.6L385.1,105.1L386.7,101.7"/>
<path d="M408.6,95.8L408.0,105.0M406.7,101.5L408.0,105.0L409.7,101.7"/>
<path d="M431.6,96.5L431.2,104.3M430.1,101.4L431.2,104.3L432.6,101.5"/>
<path d="M454.2,96.9L454.8,103.9M453.4,101.5L454.8,103.9L455.7,101.2"/>
<path d="M477.4,97.3L477.8,103.5M476.6,101.3L477.8,103.5L478.7,101.2"/>
<path d="M501.6,100.2L499.8,100.6M501.5,99.3L499.8,100.6L502.0,101.0"/>
<path d="M524.9,101.5L522.7,99.3M524.8,100.1L522.7,99.3L523.5,101.4"/>
<path d="M547.4,101.4L546.4,99.4M548.1,100.8L546.4,99.4L546.5,101.6"/>
<path d="M570.5,103.4L569.5,97.4M570.8,99.4L569.5,97.4L568.9,99.8"/>
<path d="M592.1,104.4L594.1,96.4M594.7,99.6L594.1,96.4L592.1,99.0"/>
<path d="M615.7,103.4L616.7,97.4M617.3,99.8L616.7,97.4L615.4,99.4"/>
<path d="M638.8,104.4L639.8,96.4M640.7,99.5L639.8,96.4L638.1,99.2"/>
<path d="M166.2,115.9L165.2,123.7M164.3,120.7L165.2,123.7L166.8,121.0"/>
<path d="M189.5,115.8L188.1,123.8M187.3,120.6L188.1,123.8L189.9,121.1"/>
<path d="M212.9,115.5L210.9,124.1M210.2,120.6L210.9,124.1L213.0,121.3"/>
<path d="M236.3,115.3L233.7,124.3M233.2,120.6L233.7,124.3L236.1,121.4"/>
<path d="M259.5,115.2L256.7,124.4M256.2,120.6L256.7,124.4L259.2,121.5"/>
<path d="M282.5,115.0L279.9,124.6M279.3,120.7L279.9,124.6L282.4,121.5"/>
<path d="M305.3,114.7L303.3,124.9M302.4,120.8L303.3,124.9L305.7,121.5"/>
<path d="M328.0,114.4L326.8,125.2M325.5,121.1L326.8,125.2L329.0,121.5"/>
<path d="M350.9,114.3L350.1,125.3M348.6,121.2L350.1,125.3L352.2,121.4"/>
<path d="M374.0,114.3L373.2,125.3M371.7,121.2L373.2,125.3L375.3,121.4"/>
<path d="M397.3,114.5L396.1,125.1M394.8,121.0L396.1,125.1L398.3,121.4"/>
<path d="M420.9,115.1L418.7,124.5M418.0,120.7L418.7,124.5L421.0,121.4"/>
<path d="M444.2,116.0L441.6,123.6M441.3,120.4L441.6,123.6L443.8,121.2"/>
<path d="M467.5,117.1L464.5,122.5M464.7,120.0L464.5,122.5L466.5,121.0"/>
<path d="M490.7,118.6L487.5,121.0M488.6,119.0L487.5,121.0L489.7,120.5"/>
<path d="M513.6,120.8L510.8,118.8M512.9,119.2L510.8,118.8L511.9,120.7"/>
<path d="M536.3,120.3L534.3,119.3M536.5,119.4L534.3,119.3L535.7,121.0"/>
<path d="M561.9,122.8L554.9,116.8M558.4,117.9L554.9,116.8L556.5,120.1"/>
<path d="M582.5,122.3L580.5,117.3M582.1,118.8L580.5,117.3L580.4,119.5"/>
<path d="M606.1,124.3L603.1,115.3M605.7,118.1L603.1,115.3L602.7,119.1"/>
<path d="M630.7,126.8L624.7,112.8M628.1,115.9L624.7,112.8L624.6,117.4"/>
<path d="M154.3,135.6L154.1,142.8M153.0,140.1L154.1,142.8L155.3,140.2"/>
<path d="M177.6,135.4L177.0,143.0M176.0,140.1L177.0,143.0L178.5,140.3"/>
<path d="M201.2,134.9L199.6,143.5M198.8,140.1L199.6,143.5L201.6,140.6"/>
<path d="M225.1,134.4L221.9,144.0M221.5,140.0L221.9,144.0L224.6,141.0"/>
<path d="M248.8,134.0L244.4,144.4M244.3,139.9L244.4,144.4L247.7,141.3"/>
<path d="M272.0,133.8L267.4,144.6M267.3,140.0L267.4,144.6L270.8,141.4"/>
<path d="M294.6,133.8L291.0,144.6M290.6,140.1L291.0,144.6L294.1,141.2"/>
<path d="M317.0,133.4L314.8,145.0M313.8,140.5L314.8,145.0L317.4,141.2"/>
<path d="M339.6,132.8L338.4,145.6M336.9,141.3L338.4,145.6L340.7,141.6"/>
<path d="M362.7,132.5L361.5,145.9M360.0,141.6L361.5,145.9L363.8,141.9"/>
<path d="M385.9,132.8L384.5,145.6M383.1,141.2L384.5,145.6L386.8,141.6"/>
<path d="M409.8,133.7L406.8,144.7M406.1,140.2L406.8,144.7L409.7,141.2"/>
<path d="M434.2,134.9L428.6,143.5M429.2,139.5L428.6,143.5L432.1,141.3"/>
<path d="M457.9,135.5L451.1,142.9M452.4,139.1L451.1,142.9L454.8,141.3"/>
<path d="M481.0,135.9L474.2,142.5M475.6,139.0L474.2,142.5L477.7,141.2"/>
<path d="M503.7,139.3L497.7,139.1M499.9,138.2L497.7,139.1L499.9,140.2"/>
<path d="M526.7,141.0L520.9,137.4M523.6,137.8L520.9,137.4L522.5,139.7"/>
<path d="M551.4,141.7L542.4,136.7M546.5,137.1L542.4,136.7L544.9,140.0"/>
<path d="M570.6,141.2L569.4,137.2M570.8,138.8L569.4,137.2L569.1,139.3"/>
<path d="M597.1,144.7L589.1,133.7M593.1,136.0L589.1,133.7L590.1,138.2"/>
<path d="M619.2,145.7L613.2,132.7M616.7,135.7L613.2,132.7L613.3,137.3"/>
<path d="M642.3,145.7L636.3,132.7M639.8,135.7L636.3,132.7L636.4,137.3"/>
<path d="M665.4,146.7L659.4,131.7M662.7,134.9L659.4,131.7L659.2,136.3"/>
<path d="M687.6,145.2L683.4,133.2M686.6,136.6L683.4,133.2L683.0,137.8"/>
<path d="M165.7,155.1L165.7,162.1M164.5,159.5L165.7,162.1L166.8,159.6"/>
<path d="M189.2,154.6L188.4,162.6M187.4,159.5L188.4,162.6L190.0,159.8"/>
<path d="M213.0,154.0L210.8,163.2M210.1,159.5L210.8,163.2L213.1,160.2"/>
<path d="M237.3,153.2L232.7,164.0M232.6,159.4L232.7,164.0L236.1,160.8"/>
<path d="M260.6,153.1L255.6,164.1M255.6,159.5L255.6,164.1L259.0,161.0"/>
<path d="M283.6,153.1L278.8,164.1M278.8,159.5L278.8,164.1L282.2,161.0"/>
<path d="M306.2,152.8L302.4,164.4M301.9,159.8L302.4,164.4L305.5,161.0"/>
<path d="M328.2,152.1L326.6,165.1M325.2,160.7L326.6,165.1L329.0,161.1"/>
<path d="M351.0,151.6L350.0,165.6M348.4,161.2L350.0,165.6L352.2,161.5"/>
<path d="M374.1,151.6L373.1,165.6M371.5,161.2L373.1,165.6L375.3,161.5"/>
<path d="M397.9,152.5L395.5,164.7M394.5,160.2L395.5,164.7L398.1,161.0"/>
<path d="M422.4,153.9L417.2,163.3M417.6,159.0L417.2,163.3L420.6,160.7"/>
<path d="M446.6,154.6L439.2,162.6M440.6,158.5L439.2,162.6L443.2,160.9"/>
<path d="M470.0,154.6L462.0,162.6M463.6,158.4L462.0,162.6L466.2,161.0"/>
<path d="M492.9,155.0L485.3,162.2M486.9,158.3L485.3,162.2L489.2,160.8"/>
<path d="M515.7,158.9L508.7,158.3M511.4,157.4L508.7,158.3L511.2,159.6"/>
<path d="M539.0,161.1L531.6,156.1M535.1,156.7L531.6,156.1L533.5,159.1"/>
<path d="M562.4,161.1L554.4,156.1M558.1,156.6L554.4,156.1L556.5,159.2"/>
<path d="M586.8,162.1L576.2,155.1M580.7,155.8L576.2,155.1L578.6,158.9"/>
<path d="M609.6,162.6L599.6,154.6M604.1,155.8L599.6,154.6L601.7,158.7"/>
<path d="M629.7,163.1L625.7,154.1M628.6,156.7L625.7,154.1L625.7,158.0"/>
<path d="M655.3,164.6L646.3,152.6M650.3,154.8L646.3,152.6L647.3,157.1"/>
<path d="M677.4,165.1L670.4,152.1M674.1,154.9L670.4,152.1L670.8,156.7"/>
<path d="M154.2,174.5L154.2,181.5M153.0,178.9L154.2,181.5L155.3,179.0"/>
<path d="M177.6,174.1L177.0,181.9M175.9,179.0L177.0,181.9L178.5,179.1"/>
<path d="M201.1,173.7L199.7,182.3M198.8,178.9L199.7,182.3L201.6,179.4"/>
<path d="M225.0,173.3L222.0,182.7M221.6,178.8L222.0,182.7L224.6,179.7"/>
<path d="M248.9,172.6L244.3,183.4M244.2,178.8L244.3,183.4L247.6,180.3"/>
<path d="M272.2,172.5L267.2,183.5M267.3,178.9L267.2,183.5L270.7,180.4"/>
<path d="M295.0,172.5L290.6,183.5M290.4,179.0L290.6,183.5L293.9,180.3"/>
<path d="M317.7,171.6L314.1,184.4M313.5,179.8L314.1,184.4L317.1,180.8"/>
<path d="M339.8,171.2L338.2,184.8M336.8,180.4L338.2,184.8L340.5,180.9"/>
<path d="M362.7,171.0L361.5,185.0M360.0,180.6L361.5,185.0L363.7,180.9"/>
<path d="M386.2,171.5L384.2,184.5M383.0,180.1L384.2,184.5L386.7,180.7"/>
<path d="M410.5,173.0L406.1,183.0M406.1,178.6L406.1,183.0L409.3,180.1"/>
<path d="M434.5,174.1L428.3,181.9M429.3,178.0L428.3,181.9L431.8,180.1"/>
<path d="M458.4,174.1L450.6,181.9M452.2,177.8L450.6,181.9L454.7,180.3"/>
<path d="M481.5,174.1L473.7,181.9M475.3,177.8L473.7,181.9L477.8,180.3"/>
<path d="M504.2,174.9L497.2,181.1M498.7,177.7L497.2,181.1L500.8,180.0"/>
<path d="M527.1,178.2L520.5,177.8M523.0,176.9L520.5,177.8L522.9,179.0"/>
<path d="M550.1,179.7L543.7,176.3M546.6,176.5L543.7,176.3L545.5,178.6"/>
<path d="M572.4,180.9L567.6,175.1M570.3,176.4L567.6,175.1L568.4,178.0"/>
<path d="M592.1,179.0L594.1,177.0M593.3,179.1L594.1,177.0L592.0,177.8"/>
<path d="M621.2,182.0L611.2,174.0M615.7,175.2L611.2,174.0L613.3,178.1"/>
<path d="M643.8,183.5L634.8,172.5M638.9,174.6L634.8,172.5L636.0,176.9"/>
<path d="M665.4,183.5L659.4,172.5M663.1,175.3L659.4,172.5L659.8,177.1"/>
<path d="M688.1,183.4L682.9,172.6M686.4,175.6L682.9,172.6L683.0,177.2"/>
<path d="M166.2,193.1L165.2,201.7M164.2,198.4L165.2,201.7L167.0,198.7"/>
<path d="M189.6,192.8L188.0,202.0M187.1,198.4L188.0,202.0L190.1,198.9"/>
<path d="M212.8,193.0L211.0,201.8M210.2,198.3L211.0,201.8L213.1,198.9"/>
<path d="M236.3,193.0L233.7,201.8M233.2,198.2L233.7,201.8L236.1,199.0"/>
<path d="M260.2,192.1L256.0,202.7M255.8,198.1L256.0,202.7L259.2,199.5"/>
<path d="M283.5,191.8L278.9,203.0M278.8,198.4L278.9,203.0L282.2,199.8"/>
<path d="M306.4,191.7L302.2,203.1M301.9,198.6L302.2,203.1L305.4,199.8"/>
<path d="M329.3,190.7L325.5,204.1M324.9,199.5L325.5,204.1L328.5,200.5"/>
<path d="M352.0,190.6L349.0,204.2M348.1,199.7L349.0,204.2L351.7,200.5"/>
<path d="M375.3,191.3L371.9,203.5M371.2,198.9L371.9,203.5L374.8,200.0"/>
<path d="M398.7,192.7L394.7,202.1M394.6,198.0L394.7,202.1L397.7,199.3"/>
<path d="M422.6,193.1L417.0,201.7M417.7,197.6L417.0,201.7L420.4,199.5"/>
<path d="M446.4,193.7L439.4,201.1M440.8,197.3L439.4,201.1L443.2,199.5"/>
<path d="M469.4,193.9L462.6,200.9M464.0,197.2L462.6,200.9L466.2,199.4"/>
<path d="M492.2,194.3L486.0,200.5M487.2,197.2L486.0,200.5L489.3,199.2"/>
<path d="M515.5,195.4L508.9,199.4M510.7,196.9L508.9,199.4L512.0,199.0"/>
<path d="M538.0,197.0L532.6,197.8M534.5,196.6L532.6,197.8L534.7,198.4"/>
<path d="M560.9,197.4L555.9,197.4M557.9,196.5L555.9,197.4L557.9,198.3"/>
<path d="M584.0,198.9L579.0,195.9M581.3,196.2L579.0,195.9L580.3,197.8"/>
<path d="M607.6,201.9L601.6,192.9M605.3,195.2L601.6,192.9L602.3,197.2"/>
<path d="M630.7,199.4L624.7,195.4M627.5,195.9L624.7,195.4L626.2,197.8"/>
<path d="M654.8,200.4L646.8,194.4M650.7,195.3L646.8,194.4L648.7,197.9"/>
<path d="M675.9,198.9L671.9,195.9M674.0,196.4L671.9,195.9L673.0,197.8"/>
<path d="M154.9,212.8L153.5,220.8M152.7,217.7L153.5,220.8L155.3,218.1"/>
<path d="M177.7,212.3L176.9,221.3M175.7,217.9L176.9,221.3L178.7,218.2"/>
<path d="M201.2,211.8L199.6,221.7M198.6,217.9L199.6,221.7L201.8,218.4"/>
<path d="M224.3,213.1L222.7,220.5M222.1,217.5L222.7,220.5L224.5,218.1"/>
<path d="M248.6,211.7L244.6,221.9M244.4,217.5L244.6,221.9L247.7,218.8"/>
<path d="M272.0,211.2L267.4,222.4M267.2,217.8L267.4,222.4L270.7,219.3"/>
<path d="M294.8,211.3L290.8,222.3M290.5,217.7L290.8,222.3L294.0,219.0"/>
<path d="M318.5,210.7L313.3,222.9M313.2,218.3L313.3,222.9L316.6,219.8"/>
<path d="M341.6,209.7L336.4,223.9M336.1,219.3L336.4,223.9L339.6,220.6"/>
<path d="M365.2,209.8L359.0,223.8M359.0,219.2L359.0,223.8L362.4,220.7"/>
<path d="M387.6,211.7L382.8,221.9M382.9,217.4L382.8,221.9L386.2,219.0"/>
<path d="M409.8,212.3L406.8,221.3M406.4,217.5L406.8,221.3L409.4,218.5"/>
<path d="M434.4,212.8L428.4,220.8M429.3,216.9L428.4,220.8L431.9,218.9"/>
<path d="M458.5,213.3L450.5,220.3M452.3,216.4L450.5,220.3L454.6,219.0"/>
<path d="M480.1,213.3L475.1,220.3M475.8,216.9L475.1,220.3L478.1,218.6"/>
<path d="M503.7,213.8L497.7,219.8M498.9,216.6L497.7,219.8L500.9,218.6"/>
<path d="M526.8,215.3L520.8,218.3M522.5,216.2L520.8,218.3L523.5,218.2"/>
<path d="M549.0,217.9L544.8,215.7M547.0,215.8L544.8,215.7L546.2,217.4"/>
<path d="M570.5,219.3L569.5,214.3M570.8,216.1L569.5,214.3L569.0,216.4"/>
<path d="M593.6,219.8L592.6,213.8M593.9,215.8L592.6,213.8L592.0,216.2"/>
<path d="M617.7,219.3L614.7,214.3M616.6,215.6L614.7,214.3L615.0,216.6"/>
<path d="M639.8,220.3L638.8,213.3M640.3,215.7L638.8,213.3L638.0,216.0"/>
<path d="M665.9,222.3L658.9,211.3M662.8,213.9L658.9,211.3L659.6,215.9"/>
<path d="M687.5,219.7L683.5,213.9M685.9,215.4L683.5,213.9L684.0,216.7"/>
<path d="M166.5,232.9L164.9,239.5M164.4,236.8L164.9,239.5L166.6,237.4"/>
<path d="M190.4,231.7L187.1,240.7M186.9,236.9L187.1,240.7L189.8,238.0"/>
<path d="M213.5,231.7L210.2,240.7M210.0,236.9L210.2,240.7L212.9,238.0"/>
<path d="M236.7,230.8L233.3,241.6M232.8,237.1L233.3,241.6L236.3,238.2"/>
<path d="M261.4,230.0L254.8,242.4M255.1,237.8L254.8,242.4L258.4,239.6"/>
<path d="M282.8,230.8L279.6,241.6M279.0,237.1L279.6,241.6L282.5,238.2"/>
<path d="M306.6,230.5L302.0,241.9M301.8,237.3L302.0,241.9L305.3,238.7"/>
<path d="M330.7,229.2L324.1,243.2M324.2,238.6L324.1,243.2L327.6,240.2"/>
<path d="M354.4,228.1L346.6,244.3M346.7,239.7L346.6,244.3L350.1,241.3"/>
<path d="M377.4,228.3L369.8,244.1M369.9,239.5L369.8,244.1L373.3,241.1"/>
<path d="M400.2,230.8L393.2,241.6M393.9,237.1L393.2,241.6L397.0,239.1"/>
<path d="M424.8,230.2L414.8,242.2M416.1,237.8L414.8,242.2L418.9,240.2"/>
<path d="M447.9,232.7L437.9,239.7M440.3,235.8L437.9,239.7L442.4,238.8"/>
<path d="M472.0,233.7L460.0,238.7M463.2,235.4L460.0,238.7L464.6,238.8"/>
<path d="M494.6,233.2L483.6,239.2M486.4,235.5L483.6,239.2L488.2,238.8"/>
<path d="M518.7,234.2L505.7,238.2M509.2,235.2L505.7,238.2L510.3,238.8"/>
<path d="M539.8,238.2L530.8,234.2M534.7,234.2L530.8,234.2L533.4,237.1"/>
<path d="M559.4,237.7L557.4,234.7M559.2,235.8L557.4,234.7L557.8,236.8"/>
<path d="M584.3,238.7L578.7,233.7M581.6,234.6L578.7,233.7L579.9,236.4"/>
<path d="M605.9,238.6L603.3,233.8M605.0,235.1L603.3,233.8L603.5,236.0"/>
<path d="M628.7,238.3L626.7,234.1M628.4,235.6L626.7,234.1L626.8,236.3"/>
<path d="M652.3,239.2L649.3,233.2M651.4,234.9L649.3,233.2L649.4,235.9"/>
<path d="M675.0,237.9L672.8,234.5M674.7,235.7L672.8,234.5L673.1,236.7"/>
<path d="M155.2,252.6L153.2,258.6M153.0,256.1L153.2,258.6L154.9,256.7"/>
<path d="M177.3,251.5L177.3,259.7M176.0,256.7L177.3,259.7L178.6,256.7"/>
<path d="M202.0,249.8L198.7,261.4M198.1,256.8L198.7,261.4L201.7,257.8"/>
<path d="M223.9,251.5L223.1,259.7M222.0,256.6L223.1,259.7L224.7,256.8"/>
<path d="M248.7,251.5L244.5,259.7M244.7,256.0L244.5,259.7L247.4,257.4"/>
<path d="M272.2,249.8L267.2,261.4M267.2,256.8L267.2,261.4L270.6,258.2"/>
<path d="M295.9,249.5L289.7,261.7M289.9,257.1L289.7,261.7L293.3,258.8"/>
<path d="M319.1,249.0L312.7,262.2M312.8,257.6L312.7,262.2L316.2,259.2"/>
<path d="M342.8,247.7L335.2,263.5M335.3,258.9L335.2,263.5L338.7,260.6"/>
<path d="M366.1,247.1L358.1,264.1M358.2,259.5L358.1,264.1L361.6,261.1"/>
<path d="M389.0,249.0L381.4,262.2M381.9,257.7L381.4,262.2L385.1,259.5"/>
<path d="M411.8,250.6L404.8,260.6M405.7,256.1L404.8,260.6L408.7,258.2"/>
<path d="M436.4,250.6L426.4,260.6M428.0,256.3L426.4,260.6L430.7,259.0"/>
<path d="M459.5,252.1L449.5,259.1M451.9,255.2L449.5,259.1L454.0,258.2"/>
<path d="M484.6,253.6L470.6,257.6M474.1,254.6L470.6,257.6L475.2,258.2"/>
<path d="M506.2,257.1L495.2,254.1M499.7,253.4L495.2,254.1L498.7,257.0"/>
<path d="M529.3,259.6L518.3,251.6M522.8,252.6L518.3,251.6L520.6,255.6"/>
<path d="M551.9,259.1L541.9,252.1M546.4,253.0L541.9,252.1L544.3,256.0"/>
<path d="M574.4,258.1L565.6,253.1M569.6,253.5L565.6,253.1L568.0,256.4"/>
<path d="M596.8,258.0L589.4,253.2M592.9,253.7L589.4,253.2L591.3,256.1"/>
<path d="M617.6,257.9L614.8,253.3M616.6,254.5L614.8,253.3L615.1,255.4"/>
<path d="M640.6,258.5L638.0,252.7M639.9,254.4L638.0,252.7L638.0,255.2"/>
<path d="M663.8,259.2L661.0,252.0M663.2,254.2L661.0,252.0L660.8,255.1"/>
<path d="M687.0,260.6L684.0,250.6M686.7,253.8L684.0,250.6L683.5,254.8"/>
<path d="M167.3,273.4L164.0,276.6M164.8,274.6L164.0,276.6L166.1,275.9"/>
<path d="M190.4,273.4L187.1,276.6M187.9,274.6L187.1,276.6L189.2,275.9"/>
<path d="M213.1,272.1L210.7,277.9M210.6,275.4L210.7,277.9L212.5,276.2"/>
<path d="M239.5,269.6L230.5,280.4M231.7,275.9L230.5,280.4L234.6,278.4"/>
<path d="M262.6,268.8L253.6,281.2M254.5,276.7L253.6,281.2L257.6,278.9"/>
<path d="M286.1,268.0L276.2,282.0M277.1,277.5L276.2,282.0L280.2,279.7"/>
<path d="M308.5,268.1L300.1,281.9M300.7,277.4L300.1,281.9L303.9,279.3"/>
<path d="M331.3,267.5L323.5,282.5M323.8,277.9L323.5,282.5L327.1,279.6"/>
<path d="M354.3,267.4L346.7,282.6M346.9,278.0L346.7,282.6L350.2,279.7"/>
<path d="M377.1,268.2L370.1,281.8M370.4,277.2L370.1,281.8L373.7,278.9"/>
<path d="M399.7,270.3L393.7,279.7M394.3,275.3L393.7,279.7L397.4,277.3"/>
<path d="M422.8,271.0L416.8,279.0M417.7,275.1L416.8,279.0L420.3,277.1"/>
<path d="M446.9,270.5L438.9,279.5M440.3,275.1L438.9,279.5L443.1,277.6"/>
<path d="M471.0,275.0L461.0,275.0M464.7,273.4L461.0,275.0L464.7,276.6"/>
<path d="M496.1,275.5L482.1,274.5M486.4,272.9L482.1,274.5L486.2,276.7"/>
<path d="M519.2,279.0L505.2,271.0M509.8,271.5L505.2,271.0L507.9,274.7"/>
<path d="M542.3,279.0L528.3,271.0M532.9,271.5L528.3,271.0L531.0,274.7"/>
<path d="M562.9,277.5L553.9,272.5M558.0,272.8L553.9,272.5L556.4,275.8"/>
<path d="M586.3,277.5L576.7,272.5M581.0,272.8L576.7,272.5L579.4,275.9"/>
<path d="M607.6,277.4L601.6,272.6M604.6,273.4L601.6,272.6L603.0,275.3"/>
<path d="M629.4,277.5L626.0,272.5M628.1,273.8L626.0,272.5L626.4,274.9"/>
<path d="M652.2,278.5L649.4,271.5M651.6,273.6L649.4,271.5L649.3,274.5"/>
<path d="M675.5,278.9L672.3,271.1M674.8,273.4L672.3,271.1L672.2,274.5"/>
<path d="M155.6,294.2L152.8,294.6M154.7,293.4L152.8,294.6L154.9,295.2"/>
<path d="M178.9,294.8L175.6,294.0M177.8,293.6L175.6,294.0L177.4,295.3"/>
<path d="M203.7,292.3L197.1,296.5M198.8,293.9L197.1,296.5L200.2,296.0"/>
<path d="M228.9,289.0L218.1,299.8M219.8,295.5L218.1,299.8L222.4,298.1"/>
<path d="M250.7,287.4L242.5,301.4M243.0,296.8L242.5,301.4L246.2,298.7"/>
<path d="M272.6,287.0L266.8,301.8M266.6,297.2L266.8,301.8L270.1,298.6"/>
<path d="M296.7,287.0L288.9,301.8M289.2,297.2L288.9,301.8L292.5,298.9"/>
<path d="M319.7,287.2L312.1,301.6M312.4,297.0L312.1,301.6L315.7,298.7"/>
<path d="M343.1,287.2L334.9,301.6M335.4,297.1L334.9,301.6L338.6,298.9"/>
<path d="M365.5,287.8L358.7,301.0M359.0,296.4L358.7,301.0L362.3,298.1"/>
<path d="M387.7,289.2L382.7,299.6M382.8,295.0L382.7,299.6L386.2,296.7"/>
<path d="M410.8,288.9L405.8,299.9M405.8,295.3L405.8,299.9L409.2,296.8"/>
<path d="M433.4,291.4L429.4,297.4M429.9,294.6L429.4,297.4L431.8,295.9"/>
<path d="M457.0,294.9L452.0,293.9M454.1,293.4L452.0,293.9L453.8,295.2"/>
<path d="M481.1,294.9L474.1,293.9M476.8,293.1L474.1,293.9L476.5,295.4"/>
<path d="M507.2,295.9L494.2,292.9M498.7,292.0L494.2,292.9L497.9,295.7"/>
<path d="M531.3,297.9L516.3,290.9M520.9,291.0L516.3,290.9L519.3,294.4"/>
<path d="M553.4,296.9L540.4,291.9M545.0,291.7L540.4,291.9L543.7,295.2"/>
<path d="M575.7,296.6L564.3,292.2M568.9,292.0L564.3,292.2L567.6,295.5"/>
<path d="M598.4,296.3L587.8,292.5M592.3,292.2L587.8,292.5L591.0,295.6"/>
<path d="M620.5,296.2L611.9,292.6M615.6,292.5L611.9,292.6L614.5,295.3"/>
<path d="M641.2,295.7L637.4,293.1M639.6,293.5L637.4,293.1L638.6,295.0"/>
<path d="M664.2,295.7L660.6,293.1M662.7,293.5L660.6,293.1L661.7,295.0"/>
<path d="M687.4,295.5L683.6,293.3M685.8,293.5L683.6,293.3L684.9,295.1"/>
<path d="M166.9,314.6L164.5,313.0M166.6,313.3L164.5,313.0L165.6,314.8"/>
<path d="M190.0,314.6L187.6,313.0M189.7,313.3L187.6,313.0L188.7,314.8"/>
<path d="M215.6,308.8L208.2,318.7M209.2,314.3L208.2,318.7L212.2,316.5"/>
<path d="M239.9,307.2L230.1,320.4M231.1,315.9L230.1,320.4L234.1,318.2"/>
<path d="M261.4,306.0L254.8,321.6M254.7,317.0L254.8,321.6L258.2,318.5"/>
<path d="M284.9,306.0L277.5,321.6M277.6,317.0L277.5,321.6L281.0,318.6"/>
<path d="M307.9,306.3L300.7,321.3M300.8,316.7L300.7,321.3L304.2,318.3"/>
<path d="M331.4,306.8L323.4,320.8M323.8,316.2L323.4,320.8L327.1,318.1"/>
<path d="M354.5,307.4L346.5,320.2M347.1,315.7L346.5,320.2L350.3,317.6"/>
<path d="M377.0,307.8L370.2,319.8M370.6,315.2L370.2,319.8L373.9,317.1"/>
<path d="M399.2,308.5L394.2,319.1M394.3,314.5L394.2,319.1L397.7,316.1"/>
<path d="M422.8,308.3L416.8,319.3M417.2,314.7L416.8,319.3L420.5,316.5"/>
<path d="M444.4,310.3L441.4,317.3M441.4,314.3L441.4,317.3L443.6,315.2"/>
<path d="M469.0,318.3L463.0,309.3M466.7,311.6L463.0,309.3L463.7,313.6"/>
<path d="M493.1,317.8L485.1,309.8M489.3,311.4L485.1,309.8L486.7,314.0"/>
<path d="M517.2,315.8L507.2,311.8M511.5,311.6L507.2,311.8L510.2,314.9"/>
<path d="M543.2,315.3L527.4,312.3M531.9,311.2L527.4,312.3L531.2,314.9"/>
<path d="M563.4,315.3L553.4,312.3M557.5,311.8L553.4,312.3L556.6,315.0"/>
<path d="M586.7,314.9L576.3,312.7M580.5,311.8L576.3,312.7L579.8,315.2"/>
<path d="M609.7,314.7L599.5,312.9M603.5,311.9L599.5,312.9L602.9,315.2"/>
<path d="M631.6,313.3L623.8,314.3M626.5,312.7L623.8,314.3L626.8,315.2"/>
<path d="M653.3,312.2L648.3,315.4M649.6,313.4L648.3,315.4L650.7,315.0"/>
<path d="M676.2,310.9L671.6,316.7M672.4,313.8L671.6,316.7L674.2,315.3"/>
<path d="M155.0,331.6L153.4,334.8M153.5,332.6L153.4,334.8L155.1,333.4"/>
<path d="M178.9,333.6L175.6,332.8M177.8,332.4L175.6,332.8L177.4,334.1"/>
<path d="M200.8,330.7L200.0,335.7M199.4,333.5L200.0,335.7L201.2,333.8"/>
<path d="M220.2,330.7L226.8,335.7M223.6,334.9L226.8,335.7L225.2,332.8"/>
<path d="M247.8,330.3L245.4,336.1M245.3,333.6L245.4,336.1L247.2,334.4"/>
<path d="M273.0,326.6L266.4,339.8M266.6,335.2L266.4,339.8L270.0,336.9"/>
<path d="M296.1,326.2L289.5,340.2M289.6,335.6L289.5,340.2L293.0,337.2"/>
<path d="M319.2,326.1L312.6,340.3M312.7,335.7L312.6,340.3L316.1,337.3"/>
<path d="M342.7,327.1L335.3,339.3M335.9,334.7L335.3,339.3L339.1,336.7"/>
<path d="M366.6,326.7L357.6,339.7M358.5,335.2L357.6,339.7L361.6,337.3"/>
<path d="M388.3,327.2L382.1,339.2M382.3,334.6L382.1,339.2L385.7,336.3"/>
<path d="M410.3,327.2L406.3,339.2M405.9,334.6L406.3,339.2L409.4,335.8"/>
<path d="M433.9,332.7L428.9,333.7M430.7,332.4L428.9,333.7L431.0,334.2"/>
<path d="M456.0,336.7L453.0,329.7M455.2,331.8L453.0,329.7L453.0,332.7"/>
<path d="M481.1,337.2L474.1,329.2M478.0,331.0L474.1,329.2L475.4,333.3"/>
<path d="M502.2,337.2L499.2,329.2M501.6,331.6L499.2,329.2L499.0,332.6"/>
<path d="M525.8,335.2L521.8,331.2M523.9,332.0L521.8,331.2L522.6,333.3"/>
<path d="M548.9,334.2L544.9,332.2M547.1,332.3L544.9,332.2L546.3,333.9"/>
<path d="M576.1,333.7L563.9,332.7M568.3,331.2L563.9,332.7L567.9,334.9"/>
<path d="M598.6,333.9L587.6,332.5M591.9,331.2L587.6,332.5L591.4,334.8"/>
<path d="M620.2,333.9L612.2,332.5M615.3,331.7L612.2,332.5L614.9,334.3"/>
<path d="M641.8,331.8L636.8,334.6M638.2,332.8L636.8,334.6L639.1,334.4"/>
<path d="M664.8,329.7L660.0,336.7M660.6,333.3L660.0,336.7L662.9,334.9"/>
<path d="M688.0,329.2L683.0,337.2M683.5,333.5L683.0,337.2L686.1,335.1"/>
<path d="M166.9,353.8L164.5,351.4M166.5,352.2L164.5,351.4L165.3,353.4"/>
<path d="M188.8,349.7L188.8,355.5M187.9,353.4L188.8,355.5L189.7,353.4"/>
<path d="M213.5,348.1L210.2,357.1M210.0,353.3L210.2,357.1L212.9,354.4"/>
<path d="M233.3,347.6L236.7,357.5M233.8,354.5L236.7,357.5L237.1,353.4"/>
<path d="M259.8,347.2L256.5,358.0M255.9,353.5L256.5,358.0L259.4,354.6"/>
<path d="M284.5,345.6L277.9,359.6M278.0,355.0L277.9,359.6L281.4,356.6"/>
<path d="M306.6,345.7L302.0,359.5M301.6,354.9L302.0,359.5L305.1,356.1"/>
<path d="M329.0,347.0L325.8,358.2M325.2,353.6L325.8,358.2L328.8,354.6"/>
<path d="M353.8,347.0L347.2,358.2M347.7,353.6L347.2,358.2L350.9,355.6"/>
<path d="M377.3,346.7L369.9,358.5M370.6,353.9L369.9,358.5L373.8,355.9"/>
<path d="M399.0,348.2L394.4,357.0M394.6,353.0L394.4,357.0L397.5,354.5"/>
<path d="M421.8,348.6L417.8,356.6M418.0,353.0L417.8,356.6L420.6,354.3"/>
<path d="M444.9,354.1L440.9,351.1M443.0,351.6L440.9,351.1L442.0,353.0"/>
<path d="M466.5,356.1L465.5,349.1M467.0,351.5L465.5,349.1L464.7,351.8"/>
<path d="M489.6,357.1L488.6,348.1M490.4,351.2L488.6,348.1L487.5,351.6"/>
<path d="M513.2,355.1L511.2,350.1M512.8,351.6L511.2,350.1L511.1,352.3"/>
<path d="M536.3,354.6L534.3,350.6M536.0,352.0L534.3,350.6L534.4,352.8"/>
<path d="M560.4,352.6L556.4,352.6M558.4,351.7L556.4,352.6L558.4,353.5"/>
<path d="M586.6,353.4L576.4,351.8M580.4,350.7L576.4,351.8L579.9,354.0"/>
<path d="M608.1,354.2L601.1,351.0M604.2,351.0L601.1,351.0L603.1,353.3"/>
<path d="M630.0,353.1L625.4,352.1M627.6,351.7L625.4,352.1L627.2,353.4"/>
<path d="M652.8,351.0L648.8,354.2M649.8,352.3L648.8,354.2L650.9,353.6"/>
<path d="M676.3,349.1L671.5,356.1M672.1,352.8L671.5,356.1L674.4,354.3"/>
<path d="M153.4,370.4L155.0,373.6M153.3,372.2L155.0,373.6L154.9,371.4"/>
<path d="M177.3,369.9L177.3,374.1M176.4,372.1L177.3,374.1L178.2,372.1"/>
<path d="M201.6,367.1L199.2,376.9M198.5,372.9L199.2,376.9L201.7,373.7"/>
<path d="M226.0,364.6L221.0,379.4M220.6,374.8L221.0,379.4L224.1,376.0"/>
<path d="M244.9,365.4L248.2,378.6M245.4,375.0L248.2,378.6L249.0,374.1"/>
<path d="M269.3,364.6L270.1,379.4M268.0,375.3L270.1,379.4L271.7,375.1"/>
<path d="M293.2,364.7L292.4,379.3M290.8,375.0L292.4,379.3L294.5,375.2"/>
<path d="M316.3,365.8L315.5,378.2M313.9,373.9L315.5,378.2L317.6,374.1"/>
<path d="M337.6,369.9L340.4,374.1M338.5,372.9L340.4,374.1L340.0,371.9"/>
<path d="M359.2,371.5L365.0,372.5M362.7,373.1L365.0,372.5L363.0,371.2"/>
<path d="M384.4,370.0L386.0,374.0M384.4,372.5L386.0,374.0L386.1,371.8"/>
<path d="M409.9,369.0L406.7,375.0M406.9,372.3L406.7,375.0L408.8,373.3"/>
<path d="M433.0,372.0L429.8,372.0M431.8,371.1L429.8,372.0L431.9,372.9"/>
<path d="M453.9,376.5L455.1,367.5M456.1,371.0L455.1,367.5L453.2,370.6"/>
<path d="M476.0,377.7L479.2,366.3M479.9,370.8L479.2,366.3L476.3,369.8"/>
<path d="M501.1,375.7L500.3,368.3M501.8,370.9L500.3,368.3L499.4,371.1"/>
<path d="M524.9,374.1L522.7,369.9M524.4,371.2L522.7,369.9L522.8,372.0"/>
<path d="M547.8,373.7L546.0,370.3M547.7,371.7L546.0,370.3L546.1,372.5"/>
<path d="M568.5,376.6L571.5,367.4M571.9,371.3L571.5,367.4L568.9,370.3"/>
<path d="M592.1,376.5L594.1,367.5M594.8,371.1L594.1,367.5L591.9,370.5"/>
<path d="M616.4,375.5L616.0,368.5M617.3,371.0L616.0,368.5L615.0,371.1"/>
<path d="M640.6,372.8L638.0,371.2M640.2,371.5L638.0,371.2L639.2,373.0"/>
<path d="M663.7,372.3L661.1,371.7M663.3,371.3L661.1,371.7L662.9,373.0"/>
<path d="M686.6,372.7L684.4,371.3M686.6,371.6L684.4,371.3L685.6,373.1"/>
<path d="M164.5,388.9L166.9,393.9M165.2,392.5L166.9,393.9L166.8,391.7"/>
<path d="M188.0,385.2L189.6,397.6M187.2,393.7L189.6,397.6L190.9,393.2"/>
<path d="M211.5,384.4L212.3,398.4M210.2,394.3L212.3,398.4L213.9,394.1"/>
<path d="M235.0,382.7L235.0,400.1M233.1,395.9L235.0,400.1L236.9,395.9"/>
<path d="M256.0,381.9L260.2,400.9M257.4,397.2L260.2,400.9L261.1,396.4"/>
<path d="M280.0,384.0L282.4,398.8M279.9,395.0L282.4,398.8L283.6,394.4"/>
<path d="M303.4,384.0L305.2,398.8M302.8,394.8L305.2,398.8L306.5,394.4"/>
<path d="M324.4,388.8L330.4,394.0M327.4,393.1L330.4,394.0L329.0,391.1"/>
<path d="M347.1,391.3L353.9,391.5M351.4,392.5L353.9,391.5L351.4,390.3"/>
<path d="M370.2,391.4L377.0,391.4M374.5,392.5L377.0,391.4L374.5,390.3"/>
<path d="M394.8,390.8L398.6,392.0M396.4,392.3L398.6,392.0L396.9,390.5"/>
<path d="M441.6,396.1L444.2,386.7M444.8,390.5L444.2,386.7L441.7,389.7"/>
<path d="M463.1,398.4L468.9,384.4M469.0,389.0L468.9,384.4L465.6,387.6"/>
<path d="M486.8,397.9L491.4,384.9M491.7,389.5L491.4,384.9L488.2,388.3"/>
<path d="M511.7,395.9L512.7,386.9M513.8,390.3L512.7,386.9L510.9,390.0"/>
<path d="M534.8,394.8L535.8,388.0M536.5,390.7L535.8,388.0L534.3,390.3"/>
<path d="M556.1,396.8L560.7,386.0M560.8,390.6L560.7,386.0L557.3,389.2"/>
<path d="M578.6,397.3L584.4,385.5M584.2,390.1L584.4,385.5L580.9,388.4"/>
<path d="M602.6,396.6L606.6,386.2M606.8,390.6L606.6,386.2L603.4,389.4"/>
<path d="M627.0,395.6L628.4,387.2M629.3,390.5L628.4,387.2L626.5,390.0"/>
<path d="M651.4,393.1L650.2,389.7M651.7,391.3L650.2,389.7L650.0,391.9"/>
<path d="M674.9,392.5L672.9,390.3M674.9,391.2L672.9,390.3L673.6,392.4"/>
<path d="M153.0,409.1L155.4,412.5M153.5,411.4L155.4,412.5L155.0,410.3"/>
<path d="M175.2,405.0L179.4,416.6M176.2,413.2L179.4,416.6L179.7,412.0"/>
<path d="M197.1,405.0L203.7,416.6M200.0,413.9L203.7,416.6L203.2,412.0"/>
<path d="M222.7,405.8L224.3,415.7M222.1,412.4L224.3,415.7L225.3,411.9"/>
<path d="M244.5,403.0L248.7,418.6M245.8,415.0L248.7,418.6L249.4,414.1"/>
<path d="M268.1,402.5L271.3,419.0M268.7,415.3L271.3,419.0L272.4,414.6"/>
<path d="M291.2,403.6L294.4,418.0M291.6,414.3L294.4,418.0L295.3,413.5"/>
<path d="M313.6,405.9L318.2,415.7M314.9,412.9L318.2,415.7L318.1,411.4"/>
<path d="M334.7,411.4L343.3,410.2M340.3,412.1L343.3,410.2L340.0,409.2"/>
<path d="M357.1,413.4L367.1,408.2M364.3,411.7L367.1,408.2L362.6,408.5"/>
<path d="M380.9,412.7L389.5,408.9M387.0,411.7L389.5,408.9L385.7,408.9"/>
<path d="M404.9,413.5L411.7,408.1M410.1,411.2L411.7,408.1L408.3,409.0"/>
<path d="M429.9,416.2L432.9,405.4M433.6,409.8L432.9,405.4L430.1,408.8"/>
<path d="M451.6,418.8L457.4,402.8M457.7,407.4L457.4,402.8L454.2,406.1"/>
<path d="M474.5,419.2L480.7,402.4M481.0,407.0L480.7,402.4L477.5,405.7"/>
<path d="M498.4,417.9L503.0,403.7M503.5,408.3L503.0,403.7L499.9,407.1"/>
<path d="M520.9,417.5L526.7,404.1M526.7,408.7L526.7,404.1L523.3,407.2"/>
<path d="M543.9,416.7L549.9,404.9M549.7,409.5L549.9,404.9L546.3,407.8"/>
<path d="M566.0,417.8L574.0,403.8M573.6,408.3L574.0,403.8L570.3,406.5"/>
<path d="M589.4,417.6L596.8,404.0M596.4,408.6L596.8,404.0L593.1,406.8"/>
<path d="M613.8,416.6L618.6,405.0M618.7,409.6L618.6,405.0L615.3,408.2"/>
<path d="M638.8,414.5L639.8,407.1M640.6,410.0L639.8,407.1L638.3,409.6"/>
<path d="M662.7,414.2L662.1,407.4M663.4,409.8L662.1,407.4L661.2,410.0"/>
<path d="M685.8,414.5L685.2,407.1M686.6,409.7L685.2,407.1L684.2,409.9"/>
<path d="M163.6,426.1L167.8,434.3M164.9,432.0L167.8,434.3L167.6,430.6"/>
<path d="M186.3,423.6L191.3,436.8M188.0,433.5L191.3,436.8L191.6,432.2"/>
<path d="M209.8,424.0L214.0,436.4M210.9,433.0L214.0,436.4L214.4,431.8"/>
<path d="M232.9,424.8L237.1,435.6M233.8,432.3L237.1,435.6L237.3,431.0"/>
<path d="M256.5,424.0L259.8,436.4M256.9,432.8L259.8,436.4L260.5,431.8"/>
<path d="M279.6,424.4L282.8,436.0M279.9,432.4L282.8,436.0L283.5,431.4"/>
<path d="M302.4,424.4L306.2,436.0M303.1,432.5L306.2,436.0L306.6,431.4"/>
<path d="M323.3,429.9L331.5,430.5M328.4,431.6L331.5,430.5L328.6,429.0"/>
<path d="M344.6,433.9L356.4,426.5M353.8,430.3L356.4,426.5L351.8,427.2"/>
<path d="M367.6,434.2L379.6,426.2M377.1,430.1L379.6,426.2L375.0,427.0"/>
<path d="M391.6,433.7L401.8,426.7M399.4,430.6L401.8,426.7L397.2,427.5"/>
<path d="M416.2,435.3L423.4,425.1M422.5,429.6L423.4,425.1L419.5,427.4"/>
<path d="M439.7,438.8L446.1,421.6M446.4,426.2L446.1,421.6L442.9,424.9"/>
<path d="M462.5,439.7L469.5,420.7M469.8,425.3L469.5,420.7L466.3,424.0"/>
<path d="M485.8,439.4L492.4,421.0M492.7,425.6L492.4,421.0L489.2,424.4"/>
<path d="M508.9,438.2L515.5,422.2M515.6,426.8L515.5,422.2L512.1,425.4"/>
<path d="M531.4,437.6L539.2,422.8M538.9,427.4L539.2,422.8L535.6,425.7"/>
<path d="M553.6,438.0L563.2,422.4M562.6,427.0L563.2,422.4L559.4,425.0"/>
<path d="M576.5,438.2L586.5,422.2M585.8,426.8L586.5,422.2L582.7,424.8"/>
<path d="M600.2,437.6L609.0,422.8M608.4,427.4L609.0,422.8L605.2,425.5"/>
<path d="M625.4,435.9L630.0,424.5M630.2,429.1L630.0,424.5L626.7,427.6"/>
<path d="M650.5,434.8L651.1,425.6M652.4,429.0L651.1,425.6L649.4,428.9"/>
<path d="M673.9,435.2L673.9,425.2M675.5,428.9L673.9,425.2L672.3,428.9"/>
<path d="M153.3,447.9L155.1,451.3M153.4,449.9L155.1,451.3L155.0,449.1"/>
<path d="M173.6,443.4L181.0,455.8M177.2,453.1L181.0,455.8L180.5,451.2"/>
<path d="M196.7,442.6L204.1,456.6M200.5,453.8L204.1,456.6L203.8,452.0"/>
<path d="M223.1,443.0L223.9,456.2M221.8,452.1L223.9,456.2L225.5,451.9"/>
<path d="M245.4,444.2L247.8,455.0M245.2,451.4L247.8,455.0L248.7,450.6"/>
<path d="M268.1,444.6L271.3,454.5M268.5,451.5L271.3,454.5L271.8,450.4"/>
<path d="M289.9,445.6L295.7,453.6M292.3,451.6L295.7,453.6L294.9,449.7"/>
<path d="M312.3,447.2L319.5,452.0M316.1,451.4L319.5,452.0L317.6,449.1"/>
<path d="M334.1,451.1L343.9,448.1M340.8,450.8L343.9,448.1L339.8,447.6"/>
<path d="M356.2,453.5L368.0,445.7M365.5,449.6L368.0,445.7L363.5,446.5"/>
<path d="M379.5,453.8L390.9,445.4M388.6,449.4L390.9,445.4L386.4,446.4"/>
<path d="M403.1,455.2L413.5,444.0M412.0,448.4L413.5,444.0L409.2,445.8"/>
<path d="M427.6,457.6L435.2,441.6M435.1,446.2L435.2,441.6L431.7,444.6"/>
<path d="M451.0,458.8L458.0,440.4M458.2,444.9L458.0,440.4L454.7,443.6"/>
<path d="M474.2,459.0L481.0,440.2M481.3,444.8L481.0,440.2L477.8,443.6"/>
<path d="M497.2,458.7L504.2,440.5M504.5,445.1L504.2,440.5L501.0,443.7"/>
<path d="M519.7,457.7L527.9,441.5M527.7,446.1L527.9,441.5L524.3,444.4"/>
<path d="M542.4,457.2L551.4,442.0M550.9,446.6L551.4,442.0L547.7,444.7"/>
<path d="M565.1,457.5L574.9,441.7M574.3,446.3L574.9,441.7L571.1,444.3"/>
<path d="M588.4,457.3L597.8,441.9M597.2,446.5L597.8,441.9L594.0,444.5"/>
<path d="M612.6,456.3L619.8,442.9M619.5,447.5L619.8,442.9L616.2,445.7"/>
<path d="M638.2,454.8L640.4,444.4M641.3,448.6L640.4,444.4L637.9,447.8"/>
<path d="M662.2,454.4L662.6,444.8M664.0,448.4L662.6,444.8L660.9,448.2"/>
<path d="M685.5,454.5L685.5,444.7M687.1,448.3L685.5,444.7L683.9,448.3"/>
<path d="M162.4,464.5L169.0,473.5M165.1,471.3L169.0,473.5L168.1,469.1"/>
<path d="M184.7,464.5L192.9,473.5M188.7,471.7L192.9,473.5L191.5,469.2"/>
<path d="M204.5,464.1L219.3,473.9M214.8,473.2L219.3,473.9L216.9,470.1"/>
<path d="M231.3,469.0L238.7,469.0M236.0,470.2L238.7,469.0L236.0,467.8"/>
<path d="M250.7,468.2L265.5,469.8M261.1,471.2L265.5,469.8L261.6,467.5"/>
<path d="M276.7,467.4L285.7,470.6M281.9,470.9L285.7,470.6L283.0,468.0"/>
<path d="M300.2,467.5L308.4,470.5M304.9,470.7L308.4,470.5L305.9,468.1"/>
<path d="M322.9,470.4L331.9,467.6M329.1,470.1L331.9,467.6L328.2,467.2"/>
<path d="M344.8,473.5L356.2,464.5M354.1,468.5L356.2,464.5L351.8,465.6"/>
<path d="M367.4,474.6L379.8,463.4M377.9,467.6L379.8,463.4L375.4,464.8"/>
<path d="M390.9,475.8L402.5,462.2M401.2,466.6L402.5,462.2L398.4,464.2"/>
<path d="M415.0,477.5L424.6,460.5M424.2,465.1L424.6,460.5L420.9,463.3"/>
<path d="M439.0,478.3L446.8,459.7M446.9,464.3L446.8,459.7L443.5,462.8"/>
<path d="M462.4,478.6L469.6,459.4M469.9,464.0L469.6,459.4L466.4,462.7"/>
<path d="M485.5,478.5L492.7,459.5M493.0,464.1L492.7,459.5L489.5,462.8"/>
<path d="M508.3,478.0L516.1,460.0M516.2,464.6L516.1,460.0L512.7,463.1"/>
<path d="M530.9,477.1L539.7,460.9M539.4,465.5L539.7,460.9L536.1,463.7"/>
<path d="M553.7,476.7L563.1,461.3M562.5,465.9L563.1,461.3L559.4,463.9"/>
<path d="M576.8,476.4L586.2,461.6M585.5,466.2L586.2,461.6L582.3,464.2"/>
<path d="M600.4,476.1L608.8,461.9M608.3,466.5L608.8,461.9L605.0,464.6"/>
<path d="M624.9,475.3L630.5,462.7M630.5,467.3L630.5,462.7L627.1,465.8"/>
<path d="M649.7,474.1L651.9,463.9M652.8,468.0L651.9,463.9L649.4,467.3"/>
<path d="M673.3,473.9L674.5,464.1M675.6,467.9L674.5,464.1L672.5,467.5"/>
<path d="M151.5,485.3L156.9,491.5M153.9,490.1L156.9,491.5L156.0,488.3"/>
<path d="M173.6,484.3L181.0,492.5M177.0,490.7L181.0,492.5L179.6,488.3"/>
<path d="M191.3,488.0L209.5,488.8M205.2,490.5L209.5,488.8L205.4,486.8"/>
<path d="M218.6,486.8L228.4,490.0M224.3,490.5L228.4,490.0L225.4,487.2"/>
<path d="M239.6,489.6L253.6,487.2M249.8,489.7L253.6,487.2L249.1,486.1"/>
<path d="M262.3,491.7L277.1,485.1M274.0,488.5L277.1,485.1L272.5,485.1"/>
<path d="M288.0,489.2L297.6,487.6M294.3,489.8L297.6,487.6L293.8,486.6"/>
<path d="M311.1,490.5L320.7,486.3M317.9,489.4L320.7,486.3L316.5,486.3"/>
<path d="M332.7,494.9L345.3,481.9M343.7,486.2L345.3,481.9L341.0,483.6"/>
<path d="M355.0,497.6L369.2,479.2M368.2,483.6L369.2,479.2L365.2,481.3"/>
<path d="M378.3,497.8L392.1,479.0M391.2,483.5L392.1,479.0L388.1,481.3"/>
<path d="M402.5,497.3L414.1,479.5M413.4,484.1L414.1,479.5L410.3,482.0"/>
<path d="M427.1,498.0L435.7,478.8M435.7,483.4L435.7,478.8L432.3,481.8"/>
<path d="M450.8,498.6L458.2,478.2M458.5,482.8L458.2,478.2L455.0,481.5"/>
<path d="M474.1,498.7L481.1,478.1M481.5,482.7L481.1,478.1L478.0,481.5"/>
<path d="M497.0,498.2L504.4,478.6M504.7,483.2L504.4,478.6L501.2,481.9"/>
<path d="M519.6,497.0L528.0,479.8M527.8,484.4L528.0,479.8L524.5,482.8"/>
<path d="M542.1,495.9L551.7,480.9M551.0,485.5L551.7,480.9L547.8,483.5"/>
<path d="M565.1,495.5L574.9,481.3M574.1,485.8L574.9,481.3L571.0,483.7"/>
<path d="M588.4,495.4L597.8,481.4M597.0,485.9L597.8,481.4L593.9,483.9"/>
<path d="M612.4,495.0L620.0,481.8M619.5,486.4L620.0,481.8L616.3,484.5"/>
<path d="M637.4,493.9L641.2,482.9M641.6,487.5L641.2,482.9L638.1,486.2"/>
<path d="M661.3,493.5L663.5,483.3M664.3,487.4L663.5,483.3L661.0,486.7"/>
<path d="M684.6,493.4L686.4,483.4M687.4,487.4L686.4,483.4L684.1,486.8"/>
<path d="M163.6,505.7L167.8,509.9M165.6,509.0L167.8,509.9L166.9,507.7"/>
<path d="M184.7,506.1L192.9,509.4M189.4,509.6L192.9,509.4L190.4,506.9"/>
<path d="M204.1,508.6L219.7,507.0M215.8,509.3L219.7,507.0L215.4,505.6"/>
<path d="M225.5,509.4L244.5,506.1M240.7,508.7L244.5,506.1L240.0,505.0"/>
<path d="M251.9,506.1L264.3,509.4M259.7,510.2L264.3,509.4L260.7,506.6"/>
<path d="M279.1,509.0L283.3,506.6M282.0,508.4L283.3,506.6L281.1,506.8"/>
<path d="M300.6,509.8L308.0,505.8M305.9,508.5L308.0,505.8L304.7,506.1"/>
<path d="M321.8,513.6L333.0,502.0M331.4,506.4L333.0,502.0L328.7,503.8"/>
<path d="M343.1,518.0L357.9,497.6M356.9,502.1L357.9,497.6L353.9,499.9"/>
<path d="M366.1,518.3L381.1,497.3M380.2,501.8L381.1,497.3L377.1,499.7"/>
<path d="M389.8,517.9L403.6,497.7M402.8,502.2L403.6,497.7L399.7,500.1"/>
<path d="M414.7,517.7L424.9,497.9M424.6,502.5L424.9,497.9L421.3,500.8"/>
<path d="M439.2,518.1L446.6,497.5M446.9,502.0L446.6,497.5L443.4,500.8"/>
<path d="M462.5,518.3L469.5,497.3M469.9,501.9L469.5,497.3L466.4,500.7"/>
<path d="M485.6,518.2L492.6,497.4M493.0,502.0L492.6,497.4L489.5,500.8"/>
<path d="M508.3,517.3L516.1,498.3M516.2,502.9L516.1,498.3L512.7,501.5"/>
<path d="M530.7,515.5L539.9,500.1M539.3,504.7L539.9,500.1L536.1,502.8"/>
<path d="M553.4,514.8L563.4,500.8M562.5,505.3L563.4,500.8L559.4,503.1"/>
<path d="M576.5,514.8L586.5,500.8M585.6,505.3L586.5,500.8L582.5,503.1"/>
<path d="M600.0,514.7L609.2,500.9M608.4,505.5L609.2,500.9L605.3,503.4"/>
<path d="M624.7,513.9L630.7,501.7M630.5,506.3L630.7,501.7L627.2,504.6"/>
<path d="M649.5,513.0L652.1,502.6M652.8,506.8L652.1,502.6L649.5,506.0"/>
<path d="M672.9,512.8L674.9,502.8M675.8,506.8L674.9,502.8L672.5,506.1"/>
<path d="M151.7,526.8L156.7,527.6M154.5,528.2L156.7,527.6L154.8,526.4"/>
<path d="M174.4,526.4L180.2,528.0M177.8,528.4L180.2,528.0L178.3,526.5"/>
<path d="M194.2,527.6L206.6,526.8M202.5,528.9L206.6,526.8L202.3,525.2"/>
<path d="M215.2,529.7L231.8,524.7M228.3,527.7L231.8,524.7L227.2,524.1"/>
<path d="M242.5,528.4L250.7,526.0M248.1,528.2L250.7,526.0L247.3,525.5"/>
<path d="M263.9,530.9L275.5,523.5M273.0,527.3L275.5,523.5L270.9,524.2"/>
<path d="M287.7,530.8L297.9,523.6M295.6,527.5L297.9,523.6L293.4,524.5"/>
<path d="M310.7,532.3L321.1,522.1M319.4,526.4L321.1,522.1L316.8,523.7"/>
<path d="M332.1,536.2L345.9,518.2M344.8,522.7L345.9,518.2L341.8,520.4"/>
<path d="M354.6,537.6L369.6,516.8M368.6,521.3L369.6,516.8L365.6,519.1"/>
<path d="M378.0,537.5L392.4,516.9M391.6,521.4L392.4,516.9L388.5,519.3"/>
<path d="M402.3,537.1L414.3,517.3M413.7,521.8L414.3,517.3L410.5,519.9"/>
<path d="M427.3,537.4L435.5,517.0M435.7,521.6L435.5,517.0L432.2,520.2"/>
<path d="M451.0,537.7L458.0,516.7M458.5,521.3L458.0,516.7L454.9,520.1"/>
<path d="M474.1,537.7L481.1,516.7M481.5,521.3L481.1,516.7L478.0,520.1"/>
<path d="M497.1,537.2L504.3,517.2M504.6,521.8L504.3,517.2L501.1,520.5"/>
<path d="M519.7,535.6L527.9,518.8M527.7,523.4L527.9,518.8L524.4,521.8"/>
<path d="M542.1,534.4L551.7,520.0M550.9,524.6L551.7,520.0L547.8,522.5"/>
<path d="M565.0,534.2L575.0,520.2M574.1,524.7L575.0,520.2L571.0,522.5"/>
<path d="M588.2,534.1L598.0,520.3M597.1,524.8L598.0,520.3L594.0,522.6"/>
<path d="M612.3,533.6L620.1,520.8M619.5,525.3L620.1,520.8L616.3,523.4"/>
<path d="M637.5,532.6L641.1,521.8M641.5,526.3L641.1,521.8L638.0,525.2"/>
<path d="M661.4,532.2L663.4,522.2M664.3,526.2L663.4,522.2L661.1,525.5"/>
<path d="M684.5,532.2L686.5,522.2M687.4,526.2L686.5,522.2L684.1,525.5"/>
<path d="M163.6,549.5L167.8,543.7M167.2,546.5L167.8,543.7L165.3,545.2"/>
<path d="M185.1,550.3L192.5,542.9M191.0,546.8L192.5,542.9L188.6,544.4"/>
<path d="M207.4,551.5L216.4,541.6M215.0,546.0L216.4,541.6L212.2,543.5"/>
<path d="M230.5,551.5L239.5,541.6M238.1,546.0L239.5,541.6L235.3,543.5"/>
<path d="M250.7,553.2L265.5,540.0M263.6,544.2L265.5,540.0L261.1,541.4"/>
<path d="M274.6,552.8L287.8,540.4M286.0,544.7L287.8,540.4L283.5,541.9"/>
<path d="M298.4,552.6L310.2,540.6M308.6,544.9L310.2,540.6L305.9,542.3"/>
<path d="M321.0,554.2L333.8,539.0M332.5,543.4L333.8,539.0L329.7,541.0"/>
<path d="M344.1,555.8L356.9,537.4M356.1,541.9L356.9,537.4L353.0,539.8"/>
<path d="M366.9,556.3L380.3,536.9M379.4,541.4L380.3,536.9L376.4,539.3"/>
<path d="M390.7,556.4L402.7,536.8M402.1,541.4L402.7,536.8L398.9,539.4"/>
<path d="M415.2,556.4L424.4,536.8M424.3,541.4L424.4,536.8L420.9,539.8"/>
<path d="M439.2,556.7L446.6,536.5M446.9,541.1L446.6,536.5L443.4,539.8"/>
<path d="M462.5,556.8L469.5,536.4M469.9,541.0L469.5,536.4L466.4,539.8"/>
<path d="M485.6,556.5L492.6,536.7M492.9,541.3L492.6,536.7L489.4,540.1"/>
<path d="M508.6,555.5L515.8,537.7M516.0,542.3L515.8,537.7L512.5,540.9"/>
<path d="M531.2,554.1L539.4,539.1M539.0,543.6L539.4,539.1L535.7,541.9"/>
<path d="M553.9,553.6L562.9,539.6M562.2,544.2L562.9,539.6L559.0,542.1"/>
<path d="M577.1,553.4L585.9,539.8M585.2,544.4L585.9,539.8L582.1,542.3"/>
<path d="M600.7,553.0L608.5,540.2M607.9,544.8L608.5,540.2L604.7,542.8"/>
<path d="M625.1,552.3L630.3,540.9M630.3,545.5L630.3,540.9L626.9,543.9"/>
<path d="M649.5,551.6L652.1,541.6M652.8,545.7L652.1,541.6L649.5,544.8"/>
<path d="M672.9,551.5L674.9,541.7M675.8,545.6L674.9,541.7L672.6,545.0"/>
<path d="M152.4,570.7L156.0,561.3M156.2,565.3L156.0,561.3L153.2,564.2"/>
<path d="M174.8,572.2L179.8,559.8M180.0,564.4L179.8,559.8L176.5,563.0"/>
<path d="M197.5,570.5L203.3,561.5M202.7,565.7L203.3,561.5L199.7,563.8"/>
<path d="M220.6,573.8L226.4,558.2M226.7,562.8L226.4,558.2L223.2,561.5"/>
<path d="M241.7,574.2L251.5,557.8M251.0,562.3L251.5,557.8L247.8,560.4"/>
<path d="M263.5,574.2L275.9,557.8M274.9,562.2L275.9,557.8L271.9,560.0"/>
<path d="M287.0,573.7L298.6,558.3M297.6,562.8L298.6,558.3L294.6,560.5"/>
<path d="M310.2,573.3L321.6,558.7M320.5,563.1L321.6,558.7L317.5,560.8"/>
<path d="M333.7,574.3L344.3,557.7M343.6,562.3L344.3,557.7L340.5,560.3"/>
<path d="M357.2,574.5L367.0,557.5M366.5,562.0L367.0,557.5L363.3,560.2"/>
<path d="M380.6,574.9L389.8,557.1M389.6,561.7L389.8,557.1L386.2,560.0"/>
<path d="M403.9,575.2L412.7,556.8M412.6,561.4L412.7,556.8L409.2,559.8"/>
<path d="M427.6,575.4L435.2,556.6M435.3,561.2L435.2,556.6L431.9,559.8"/>
<path d="M451.2,575.4L457.8,556.6M458.2,561.2L457.8,556.6L454.7,560.0"/>
<path d="M474.4,575.2L480.8,556.8M481.2,561.4L480.8,556.8L477.6,560.1"/>
<path d="M497.4,574.9L504.0,557.1M504.3,561.7L504.0,557.1L500.8,560.4"/>
<path d="M520.4,573.8L527.2,558.2M527.2,562.8L527.2,558.2L523.8,561.3"/>
<path d="M543.5,572.7L550.3,559.3M550.0,563.9L550.3,559.3L546.7,562.2"/>
<path d="M566.8,572.1L573.2,559.9M572.9,564.5L573.2,559.9L569.6,562.8"/>
<path d="M590.1,571.9L596.1,560.1M595.9,564.7L596.1,560.1L592.6,563.0"/>
<path d="M613.6,571.7L618.8,560.3M618.8,564.9L618.8,560.3L615.4,563.4"/>
<path d="M637.9,571.0L640.7,561.0M641.3,565.1L640.7,561.0L638.1,564.2"/>
<path d="M661.7,570.5L663.1,561.5M664.0,565.0L663.1,561.5L661.1,564.6"/>
<path d="M685.1,570.4L685.9,561.6M687.0,565.0L685.9,561.6L684.2,564.7"/>
<path d="M164.5,591.2L166.9,579.6M167.9,584.1L166.9,579.6L164.2,583.3"/>
<path d="M189.2,591.2L188.4,579.6M190.6,583.7L188.4,579.6L186.8,583.9"/>
<path d="M211.9,591.2L211.9,579.6M213.8,583.8L211.9,579.6L210.0,583.8"/>
<path d="M232.1,591.6L237.9,579.2M237.8,583.8L237.9,579.2L234.4,582.2"/>
<path d="M253.6,594.5L262.6,576.3M262.4,580.9L262.6,576.3L259.1,579.2"/>
<path d="M276.2,593.6L286.1,577.1M285.6,581.7L286.1,577.1L282.4,579.8"/>
<path d="M299.2,593.6L309.4,577.2M308.8,581.8L309.4,577.2L305.6,579.8"/>
<path d="M322.7,593.4L332.1,577.4M331.6,582.0L332.1,577.4L328.4,580.1"/>
<path d="M346.7,593.5L354.3,577.3M354.2,581.9L354.3,577.3L350.8,580.3"/>
<path d="M370.0,593.5L377.2,577.3M377.2,581.9L377.2,577.3L373.8,580.4"/>
<path d="M392.9,593.8L400.5,577.0M400.5,581.6L400.5,577.0L397.1,580.1"/>
<path d="M416.1,594.3L423.5,576.5M423.6,581.1L423.5,576.5L420.2,579.6"/>
<path d="M439.7,594.4L446.1,576.4M446.4,580.9L446.1,576.4L442.9,579.7"/>
<path d="M463.0,594.4L469.0,576.4M469.5,581.0L469.0,576.4L465.9,579.8"/>
<path d="M486.1,594.3L492.1,576.5M492.6,581.0L492.1,576.5L489.0,579.8"/>
<path d="M509.1,593.7L515.3,577.1M515.6,581.7L515.3,577.1L512.1,580.4"/>
<path d="M532.4,591.9L538.2,578.9M538.2,583.5L538.2,578.9L534.8,582.0"/>
<path d="M555.8,591.1L561.0,579.7M560.9,584.3L561.0,579.7L557.5,582.8"/>
<path d="M579.0,590.9L584.0,579.9M584.0,584.5L584.0,579.9L580.6,582.9"/>
<path d="M602.1,591.0L607.1,579.8M607.1,584.4L607.1,579.8L603.7,582.9"/>
<path d="M626.0,590.5L629.4,580.3M629.8,584.6L629.4,580.3L626.5,583.5"/>
<path d="M650.3,589.7L651.3,581.1M652.3,584.4L651.3,581.1L649.5,584.1"/>
<path d="M673.8,589.5L674.0,581.3M675.2,584.3L674.0,581.3L672.6,584.3"/>
<path d="M154.2,610.8L154.2,598.8M156.1,603.0L154.2,598.8L152.3,603.0"/>
<path d="M176.9,610.7L177.7,598.9M179.3,603.2L177.7,598.9L175.5,603.0"/>
<path d="M200.0,610.5L200.8,599.1M202.4,603.4L200.8,599.1L198.6,603.1"/>
<path d="M221.5,611.4L225.5,598.2M226.1,602.7L225.5,598.2L222.5,601.7"/>
<path d="M242.7,613.3L250.5,596.3M250.4,600.9L250.5,596.3L247.0,599.3"/>
<path d="M265.6,613.7L273.8,595.9M273.7,600.5L273.8,595.9L270.3,598.9"/>
<path d="M288.0,613.2L297.6,596.4M297.2,600.9L297.6,596.4L293.9,599.1"/>
<path d="M311.3,613.2L320.5,596.4M320.1,601.0L320.5,596.4L316.8,599.2"/>
<path d="M335.2,612.8L342.8,596.8M342.7,601.4L342.8,596.8L339.3,599.8"/>
<path d="M358.6,612.8L365.6,596.8M365.6,601.4L365.6,596.8L362.2,599.9"/>
<path d="M381.6,612.8L388.8,596.8M388.8,601.4L388.8,596.8L385.3,599.9"/>
<path d="M404.7,613.3L411.9,596.3M412.0,600.9L411.9,596.3L408.6,599.5"/>
<path d="M428.2,613.7L434.6,595.9M435.0,600.5L434.6,595.9L431.4,599.2"/>
<path d="M451.5,613.8L457.5,595.8M458.0,600.4L457.5,595.8L454.4,599.2"/>
<path d="M474.6,613.8L480.6,595.8M481.0,600.4L480.6,595.8L477.5,599.2"/>
<path d="M497.7,613.6L503.7,596.0M504.1,600.6L503.7,596.0L500.6,599.4"/>
<path d="M520.9,612.1L526.7,597.5M526.9,602.1L526.7,597.5L523.4,600.7"/>
<path d="M544.3,610.5L549.5,599.1M549.5,603.7L549.5,599.1L546.0,602.1"/>
<path d="M567.5,610.3L572.5,599.3M572.5,603.9L572.5,599.3L569.1,602.4"/>
<path d="M590.6,610.3L595.6,599.3M595.6,603.9L595.6,599.3L592.2,602.3"/>
<path d="M614.0,610.2L618.4,599.4M618.5,604.0L618.4,599.4L615.1,602.6"/>
<path d="M638.5,609.4L640.1,600.2M641.0,603.8L640.1,600.2L638.0,603.3"/>
<path d="M662.3,608.8L662.5,600.8M663.7,603.7L662.5,600.8L661.1,603.7"/>
<path d="M685.5,608.8L685.5,600.8M686.8,603.7L685.5,600.8L684.2,603.7"/>
</g>
<line x1="155.5" y1="104.5" x2="168.5" y2="104.5" stroke="#000" stroke-width="1.2"/>
<line x1="155.5" y1="236" x2="168.5" y2="236" stroke="#000" stroke-width="1.2"/>
<line x1="155.5" y1="367.5" x2="168.5" y2="367.5" stroke="#000" stroke-width="1.2"/>
<line x1="155.5" y1="497.5" x2="168.5" y2="497.5" stroke="#000" stroke-width="1.2"/>
<line x1="683.5" y1="236" x2="670.5" y2="236" stroke="#000" stroke-width="1.2"/>
<line x1="683.5" y1="366.5" x2="670.5" y2="366.5" stroke="#000" stroke-width="1.2"/>
<line x1="683.5" y1="497.5" x2="670.5" y2="497.5" stroke="#000" stroke-width="1.2"/>
<line x1="165" y1="604" x2="165" y2="591" stroke="#000" stroke-width="1.2"/>
<line x1="278" y1="604" x2="278" y2="591" stroke="#000" stroke-width="1.2"/>
<line x1="390.5" y1="604" x2="390.5" y2="591" stroke="#000" stroke-width="1.2"/>
<line x1="503.5" y1="604" x2="503.5" y2="591" stroke="#000" stroke-width="1.2"/>
<line x1="616.5" y1="604" x2="616.5" y2="591" stroke="#000" stroke-width="1.2"/>
<line x1="188" y1="77" x2="188" y2="90" stroke="#000" stroke-width="1.2"/>
<line x1="290.3" y1="77" x2="290.3" y2="90" stroke="#000" stroke-width="1.2"/>
<line x1="393.4" y1="77" x2="393.4" y2="90" stroke="#000" stroke-width="1.2"/>
<line x1="496.5" y1="77" x2="496.5" y2="90" stroke="#000" stroke-width="1.2"/>
<line x1="598.9" y1="77" x2="598.9" y2="90" stroke="#000" stroke-width="1.2"/>
<rect x="155.5" y="76.5" width="528" height="528" fill="none" stroke="#000" stroke-width="1.4"/>
<rect x="656.7" y="76.7" width="29" height="38.4" fill="#fff" stroke="#333" stroke-width="0.6"/>
<text x="671.3" y="90.3" font-size="12.5" text-anchor="middle" font-family="Liberation Sans, sans-serif">8</text>
<path d="M660,101.5L682,101.5M677.4,99.4L682,101.5L677.4,103.6" fill="none" stroke="#000" stroke-width="0.7"/>
<rect x="163.10" y="628.5" width="39.68" height="14.3" fill="#0000ff" shape-rendering="crispEdges"/>
<rect x="202.48" y="628.5" width="39.68" height="14.3" fill="#0080ff" shape-rendering="crispEdges"/>
<rect x="241.86" y="628.5" width="39.68" height="14.3" fill="#00ffff" shape-rendering="crispEdges"/>
<rect x="281.24" y="628.5" width="39.68" height="14.3" fill="#00dc82" shape-rendering="crispEdges"/>
<rect x="320.62" y="628.5" width="39.68" height="14.3" fill="#00aa14" shape-rendering="crispEdges"/>
<rect x="360.00" y="628.5" width="39.68" height="14.3" fill="#82dc14" shape-rendering="crispEdges"/>
<rect x="399.38" y="628.5" width="39.68" height="14.3" fill="#ffff00" shape-rendering="crispEdges"/>
<rect x="438.76" y="628.5" width="39.68" height="14.3" fill="#ffcd00" shape-rendering="crispEdges"/>
<rect x="478.14" y="628.5" width="39.68" height="14.3" fill="#ffa000" shape-rendering="crispEdges"/>
<rect x="517.52" y="628.5" width="39.68" height="14.3" fill="#ff5500" shape-rendering="crispEdges"/>
<rect x="556.90" y="628.5" width="39.68" height="14.3" fill="#ff0000" shape-rendering="crispEdges"/>
<rect x="596.28" y="628.5" width="39.68" height="14.3" fill="#b4003c" shape-rendering="crispEdges"/>
<rect x="635.66" y="628.5" width="39.68" height="14.3" fill="#550087" shape-rendering="crispEdges"/>
<line x1="202.48" y1="628.5" x2="202.48" y2="642.8" stroke="#000" stroke-width="1"/>
<line x1="241.86" y1="628.5" x2="241.86" y2="642.8" stroke="#000" stroke-width="1"/>
<line x1="281.24" y1="628.5" x2="281.24" y2="642.8" stroke="#000" stroke-width="1"/>
<line x1="320.62" y1="628.5" x2="320.62" y2="642.8" stroke="#000" stroke-width="1"/>
<line x1="360.00" y1="628.5" x2="360.00" y2="642.8" stroke="#000" stroke-width="1"/>
<line x1="399.38" y1="628.5" x2="399.38" y2="642.8" stroke="#000" stroke-width="1"/>
<line x1="438.76" y1="628.5" x2="438.76" y2="642.8" stroke="#000" stroke-width="1"/>
<line x1="478.14" y1="628.5" x2="478.14" y2="642.8" stroke="#000" stroke-width="1"/>
<line x1="517.52" y1="628.5" x2="517.52" y2="642.8" stroke="#000" stroke-width="1"/>
<line x1="556.90" y1="628.5" x2="556.90" y2="642.8" stroke="#000" stroke-width="1"/>
<line x1="596.28" y1="628.5" x2="596.28" y2="642.8" stroke="#000" stroke-width="1"/>
<line x1="635.66" y1="628.5" x2="635.66" y2="642.8" stroke="#000" stroke-width="1"/>
<rect x="163.1" y="628.5" width="511.94" height="14.3" fill="none" stroke="#555" stroke-width="0.5"/>
<text x="202.5" y="657.3" font-size="14.5" text-anchor="middle" font-family="Liberation Sans, sans-serif">20</text>
<text x="281.2" y="657.3" font-size="14.5" text-anchor="middle" font-family="Liberation Sans, sans-serif">60</text>
<text x="360.0" y="657.3" font-size="14.5" text-anchor="middle" font-family="Liberation Sans, sans-serif">100</text>
<text x="438.8" y="657.3" font-size="14.5" text-anchor="middle" font-family="Liberation Sans, sans-serif">140</text>
<text x="517.5" y="657.3" font-size="14.5" text-anchor="middle" font-family="Liberation Sans, sans-serif">180</text>
<text x="596.3" y="657.3" font-size="14.5" text-anchor="middle" font-family="Liberation Sans, sans-serif">220</text>
</svg>
<div class="t" style="left:313px;top:15px;font-size:14.3px;font-weight:bold;">2023/9/24/14UTC (8LT), Sunday</div>
<div class="t" style="left:313px;top:30.5px;font-size:14.2px;font-weight:bold;">FV3M0B0L2_GFS025</div>
<div class="t" style="left:155px;top:45px;font-size:24.05px;">averaged surface downward shortwave flux</div>
<div class="t" style="left:602.5px;top:48px;font-size:24.1px;">W/m**2</div>
<div class="t" style="left:113.5px;top:229.3px;font-size:14.5px;">36°N</div>
<div class="t" style="left:113.5px;top:490.8px;font-size:14.5px;">32°N</div>
<div class="t" style="left:142.5px;top:613.3px;font-size:14.5px;">102°W</div>
<div class="t" style="left:372.5px;top:613.3px;font-size:14.5px;">98°W</div>
<div class="t" style="left:599px;top:613.3px;font-size:14.5px;">94°W</div>
<div class="t" style="left:217px;top:608.6px;font-size:14.6px;">Min= 0 Max= 255.5</div>
</body></html>
